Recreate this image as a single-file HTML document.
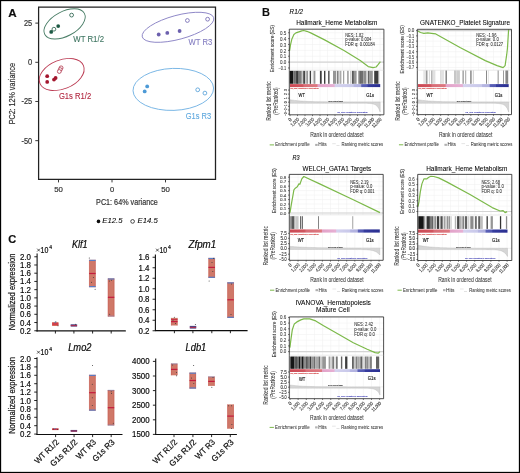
<!DOCTYPE html>
<html><head><meta charset="utf-8"><style>
html,body{margin:0;padding:0;background:#fff;}
body{width:520px;height:473px;overflow:hidden;}
svg{display:block;will-change:transform;font-family:"Liberation Sans",sans-serif;}
</style></head><body>
<svg width="520" height="473" viewBox="0 0 520 473">
<rect x="0" y="0" width="520" height="473" fill="#fff"/>
<defs><filter id="soft" x="0" y="0" width="1" height="1"><feGaussianBlur stdDeviation="0.3"/></filter></defs>
<g filter="url(#soft)">
<text x="8.20" y="16.70" font-size="11.6" stroke="#111" stroke-width="0.2" fill="#111" font-weight="bold">A</text>
<path d="M38.6 7.1 H215.5 V179.4 H38.6 Z" fill="none" stroke="#222" stroke-width="1.25"/>
<line x1="35.30" y1="23.12" x2="38.60" y2="23.12" stroke="#222" stroke-width="0.9"/>
<text x="32.20" y="26.12" font-size="8.2" stroke="#333" stroke-width="0.2" textLength="8.20" lengthAdjust="spacingAndGlyphs" fill="#333" text-anchor="end">25</text>
<line x1="35.30" y1="62.30" x2="38.60" y2="62.30" stroke="#222" stroke-width="0.9"/>
<text x="32.20" y="65.30" font-size="8.2" stroke="#333" stroke-width="0.2" textLength="4.20" lengthAdjust="spacingAndGlyphs" fill="#333" text-anchor="end">0</text>
<line x1="35.30" y1="101.47" x2="38.60" y2="101.47" stroke="#222" stroke-width="0.9"/>
<text x="32.20" y="104.47" font-size="8.2" stroke="#333" stroke-width="0.2" textLength="10.70" lengthAdjust="spacingAndGlyphs" fill="#333" text-anchor="end">-25</text>
<line x1="35.30" y1="140.65" x2="38.60" y2="140.65" stroke="#222" stroke-width="0.9"/>
<text x="32.20" y="143.65" font-size="8.2" stroke="#333" stroke-width="0.2" textLength="10.70" lengthAdjust="spacingAndGlyphs" fill="#333" text-anchor="end">-50</text>
<line x1="58.50" y1="179.40" x2="58.50" y2="182.40" stroke="#222" stroke-width="0.9"/>
<text x="58.50" y="192.30" font-size="8.0" stroke="#333" stroke-width="0.2" textLength="8.70" lengthAdjust="spacingAndGlyphs" fill="#333" text-anchor="middle">50</text>
<line x1="112.00" y1="179.40" x2="112.00" y2="182.40" stroke="#222" stroke-width="0.9"/>
<text x="112.00" y="192.30" font-size="8.0" stroke="#333" stroke-width="0.2" textLength="4.20" lengthAdjust="spacingAndGlyphs" fill="#333" text-anchor="middle">0</text>
<line x1="165.50" y1="179.40" x2="165.50" y2="182.40" stroke="#222" stroke-width="0.9"/>
<text x="165.50" y="192.30" font-size="8.0" stroke="#333" stroke-width="0.2" textLength="8.70" lengthAdjust="spacingAndGlyphs" fill="#333" text-anchor="middle">50</text>
<text x="96.10" y="205.40" font-size="9.0" stroke="#333" stroke-width="0.2" textLength="61.70" lengthAdjust="spacingAndGlyphs" fill="#333">PC1: 64% variance</text>
<text x="14.60" y="124.30" font-size="9.5" stroke="#333" stroke-width="0.2" textLength="61.20" lengthAdjust="spacingAndGlyphs" fill="#333" transform="rotate(-90 14.60 124.30)">PC2: 12% variance</text>
<circle cx="98.50" cy="221.40" r="1.80" fill="#111"/>
<text x="102.30" y="223.40" font-size="7.0" stroke="#222" stroke-width="0.08" textLength="20.20" lengthAdjust="spacingAndGlyphs" font-style="italic">E12.5</text>
<circle cx="132.60" cy="221.40" r="1.85" fill="none" stroke="#222" stroke-width="0.8"/>
<text x="137.60" y="223.40" font-size="7.0" stroke="#222" stroke-width="0.08" textLength="20.20" lengthAdjust="spacingAndGlyphs" font-style="italic">E14.5</text>
<ellipse cx="64.60" cy="23.90" rx="22.40" ry="12.30" transform="rotate(-28 64.60 23.90)" fill="none" stroke="#4a7e67" stroke-width="0.9"/>
<circle cx="71.60" cy="15.10" r="1.90" fill="white" stroke="#1f5a44" stroke-width="0.8"/>
<circle cx="58.20" cy="26.10" r="1.90" fill="#1f5a44"/>
<circle cx="53.90" cy="29.20" r="1.90" fill="white" stroke="#1f5a44" stroke-width="0.8"/>
<circle cx="51.20" cy="31.90" r="1.90" fill="#1f5a44"/>
<text x="73.30" y="41.60" font-size="8.2" stroke="#3d7460" stroke-width="0.1" textLength="30.70" lengthAdjust="spacingAndGlyphs" fill="#3d7460">WT R1/2</text>
<ellipse cx="61.70" cy="74.50" rx="23.50" ry="14.50" transform="rotate(-22 61.70 74.50)" fill="none" stroke="#bb3a52" stroke-width="0.9"/>
<circle cx="47.20" cy="76.20" r="1.90" fill="#a3152f"/>
<circle cx="47.20" cy="81.90" r="1.90" fill="#a3152f"/>
<circle cx="54.00" cy="79.60" r="1.90" fill="#a3152f"/>
<circle cx="55.60" cy="78.00" r="1.90" fill="#a3152f"/>
<circle cx="61.10" cy="67.80" r="1.90" fill="white" stroke="#a3152f" stroke-width="0.7"/>
<circle cx="60.20" cy="69.60" r="1.90" fill="white" stroke="#a3152f" stroke-width="0.7"/>
<circle cx="59.30" cy="71.50" r="1.90" fill="white" stroke="#a3152f" stroke-width="0.7"/>
<text x="58.90" y="98.70" font-size="8.2" stroke="#b1263f" stroke-width="0.1" textLength="32.30" lengthAdjust="spacingAndGlyphs" fill="#b1263f">G1s R1/2</text>
<ellipse cx="178.00" cy="27.30" rx="37.00" ry="12.00" transform="rotate(-15 178.00 27.30)" fill="none" stroke="#8d86c6" stroke-width="0.9"/>
<circle cx="158.70" cy="34.50" r="1.90" fill="#6c61ae"/>
<circle cx="167.30" cy="32.90" r="1.90" fill="#6c61ae"/>
<circle cx="179.60" cy="31.00" r="1.90" fill="#6c61ae"/>
<circle cx="187.40" cy="20.50" r="1.90" fill="white" stroke="#6c61ae" stroke-width="0.8"/>
<circle cx="207.60" cy="19.20" r="1.90" fill="white" stroke="#6c61ae" stroke-width="0.8"/>
<text x="188.60" y="45.20" font-size="8.2" stroke="#837cc0" stroke-width="0.1" textLength="23.70" lengthAdjust="spacingAndGlyphs" fill="#837cc0">WT R3</text>
<ellipse cx="173.30" cy="89.40" rx="40.30" ry="21.00" transform="rotate(-2 173.30 89.40)" fill="none" stroke="#6eb0e2" stroke-width="0.9"/>
<circle cx="147.20" cy="86.40" r="1.90" fill="#4d9ad6"/>
<circle cx="144.70" cy="91.40" r="1.90" fill="#4d9ad6"/>
<circle cx="197.70" cy="89.80" r="1.90" fill="white" stroke="#4d9ad6" stroke-width="0.8"/>
<circle cx="204.90" cy="93.10" r="1.90" fill="white" stroke="#4d9ad6" stroke-width="0.8"/>
<text x="185.70" y="118.90" font-size="8.2" stroke="#5ea7dd" stroke-width="0.1" textLength="25.40" lengthAdjust="spacingAndGlyphs" fill="#5ea7dd">G1s R3</text>
<text x="261.90" y="16.00" font-size="11.0" stroke="#111" stroke-width="0.12" fill="#111" font-weight="bold">B</text>
<text x="289.60" y="14.20" font-size="6.8" stroke="#222" stroke-width="0.12" textLength="13.30" lengthAdjust="spacingAndGlyphs" font-style="italic">R1/2</text>
<text x="292.50" y="159.50" font-size="6.8" stroke="#222" stroke-width="0.12" textLength="7.00" lengthAdjust="spacingAndGlyphs" font-style="italic">R3</text>
<line x1="289.30" y1="32.75" x2="383.90" y2="32.75" stroke="#efefef" stroke-width="0.5"/>
<line x1="289.30" y1="38.62" x2="383.90" y2="38.62" stroke="#efefef" stroke-width="0.5"/>
<line x1="289.30" y1="44.49" x2="383.90" y2="44.49" stroke="#efefef" stroke-width="0.5"/>
<line x1="289.30" y1="50.36" x2="383.90" y2="50.36" stroke="#efefef" stroke-width="0.5"/>
<line x1="289.30" y1="56.23" x2="383.90" y2="56.23" stroke="#efefef" stroke-width="0.5"/>
<line x1="289.30" y1="62.10" x2="383.90" y2="62.10" stroke="#efefef" stroke-width="0.5"/>
<line x1="289.30" y1="67.97" x2="383.90" y2="67.97" stroke="#efefef" stroke-width="0.5"/>
<line x1="290.00" y1="29.20" x2="290.00" y2="70.20" stroke="#efefef" stroke-width="0.5"/>
<line x1="290.00" y1="87.10" x2="290.00" y2="114.80" stroke="#efefef" stroke-width="0.5"/>
<line x1="297.50" y1="29.20" x2="297.50" y2="70.20" stroke="#efefef" stroke-width="0.5"/>
<line x1="297.50" y1="87.10" x2="297.50" y2="114.80" stroke="#efefef" stroke-width="0.5"/>
<line x1="305.00" y1="29.20" x2="305.00" y2="70.20" stroke="#efefef" stroke-width="0.5"/>
<line x1="305.00" y1="87.10" x2="305.00" y2="114.80" stroke="#efefef" stroke-width="0.5"/>
<line x1="312.50" y1="29.20" x2="312.50" y2="70.20" stroke="#efefef" stroke-width="0.5"/>
<line x1="312.50" y1="87.10" x2="312.50" y2="114.80" stroke="#efefef" stroke-width="0.5"/>
<line x1="320.00" y1="29.20" x2="320.00" y2="70.20" stroke="#efefef" stroke-width="0.5"/>
<line x1="320.00" y1="87.10" x2="320.00" y2="114.80" stroke="#efefef" stroke-width="0.5"/>
<line x1="327.50" y1="29.20" x2="327.50" y2="70.20" stroke="#efefef" stroke-width="0.5"/>
<line x1="327.50" y1="87.10" x2="327.50" y2="114.80" stroke="#efefef" stroke-width="0.5"/>
<line x1="335.00" y1="29.20" x2="335.00" y2="70.20" stroke="#efefef" stroke-width="0.5"/>
<line x1="335.00" y1="87.10" x2="335.00" y2="114.80" stroke="#efefef" stroke-width="0.5"/>
<line x1="342.50" y1="29.20" x2="342.50" y2="70.20" stroke="#efefef" stroke-width="0.5"/>
<line x1="342.50" y1="87.10" x2="342.50" y2="114.80" stroke="#efefef" stroke-width="0.5"/>
<line x1="350.00" y1="29.20" x2="350.00" y2="70.20" stroke="#efefef" stroke-width="0.5"/>
<line x1="350.00" y1="87.10" x2="350.00" y2="114.80" stroke="#efefef" stroke-width="0.5"/>
<line x1="357.50" y1="29.20" x2="357.50" y2="70.20" stroke="#efefef" stroke-width="0.5"/>
<line x1="357.50" y1="87.10" x2="357.50" y2="114.80" stroke="#efefef" stroke-width="0.5"/>
<line x1="365.00" y1="29.20" x2="365.00" y2="70.20" stroke="#efefef" stroke-width="0.5"/>
<line x1="365.00" y1="87.10" x2="365.00" y2="114.80" stroke="#efefef" stroke-width="0.5"/>
<line x1="372.50" y1="29.20" x2="372.50" y2="70.20" stroke="#efefef" stroke-width="0.5"/>
<line x1="372.50" y1="87.10" x2="372.50" y2="114.80" stroke="#efefef" stroke-width="0.5"/>
<line x1="380.00" y1="29.20" x2="380.00" y2="70.20" stroke="#efefef" stroke-width="0.5"/>
<line x1="380.00" y1="87.10" x2="380.00" y2="114.80" stroke="#efefef" stroke-width="0.5"/>
<line x1="289.30" y1="62.10" x2="383.90" y2="62.10" stroke="#d4d4d4" stroke-width="1.1"/>
<polyline points="289.6,50.7 290.5,44.8 291.9,38.9 293.9,34.5 295.9,32.9 298.9,31.9 301.8,30.9 303.8,30.5 306.8,31.3 310.7,32.9 324.6,39.9 344.4,50.7 360.2,60.6 368.2,66.6 373.1,67.6 376.1,67.0 378.1,64.6 380.4,61.6" fill="none" stroke="#7cb94a" stroke-width="1.2" stroke-linejoin="round"/>
<rect x="289.80" y="70.80" width="3.30" height="13.00" fill="rgb(25,25,25)"/>
<rect x="293.10" y="70.80" width="0.90" height="13.00" fill="rgb(120,120,120)"/>
<rect x="294.00" y="70.80" width="1.40" height="13.00" fill="rgb(110,110,110)"/>
<rect x="295.40" y="70.80" width="1.80" height="13.00" fill="rgb(70,70,70)"/>
<rect x="297.20" y="70.80" width="1.40" height="13.00" fill="rgb(20,20,20)"/>
<rect x="298.60" y="70.80" width="3.20" height="13.00" fill="rgb(125,125,125)"/>
<rect x="301.80" y="70.80" width="1.40" height="13.00" fill="rgb(200,200,200)"/>
<rect x="303.20" y="70.80" width="1.90" height="13.00" fill="rgb(70,70,70)"/>
<rect x="305.10" y="70.80" width="1.40" height="13.00" fill="rgb(200,200,200)"/>
<rect x="306.50" y="70.80" width="1.40" height="13.00" fill="rgb(130,130,130)"/>
<rect x="307.90" y="70.80" width="1.40" height="13.00" fill="rgb(245,245,245)"/>
<rect x="309.70" y="70.80" width="1.40" height="13.00" fill="rgb(60,60,60)"/>
<rect x="311.10" y="70.80" width="1.90" height="13.00" fill="rgb(240,240,240)"/>
<rect x="313.50" y="70.80" width="1.90" height="13.00" fill="rgb(150,150,150)"/>
<rect x="319.90" y="70.80" width="1.80" height="13.00" fill="rgb(60,60,60)"/>
<rect x="324.00" y="70.80" width="1.40" height="13.00" fill="rgb(60,60,60)"/>
<rect x="328.20" y="70.80" width="1.30" height="13.00" fill="rgb(60,60,60)"/>
<rect x="333.00" y="70.80" width="3.00" height="13.00" fill="rgb(150,150,150)"/>
<rect x="336.80" y="70.80" width="1.80" height="13.00" fill="rgb(130,130,130)"/>
<rect x="339.50" y="70.80" width="1.90" height="13.00" fill="rgb(170,170,170)"/>
<rect x="343.20" y="70.80" width="1.00" height="13.00" fill="rgb(140,140,140)"/>
<rect x="347.00" y="70.80" width="1.80" height="13.00" fill="rgb(170,170,170)"/>
<rect x="350.20" y="70.80" width="1.30" height="13.00" fill="rgb(200,200,200)"/>
<rect x="352.00" y="70.80" width="1.90" height="13.00" fill="rgb(90,90,90)"/>
<rect x="353.90" y="70.80" width="2.70" height="13.00" fill="rgb(150,150,150)"/>
<rect x="358.00" y="70.80" width="1.40" height="13.00" fill="rgb(170,170,170)"/>
<rect x="359.40" y="70.80" width="1.40" height="13.00" fill="rgb(70,70,70)"/>
<rect x="360.80" y="70.80" width="2.70" height="13.00" fill="rgb(110,110,110)"/>
<rect x="363.50" y="70.80" width="2.80" height="13.00" fill="rgb(140,140,140)"/>
<rect x="366.30" y="70.80" width="1.40" height="13.00" fill="rgb(200,200,200)"/>
<rect x="368.20" y="70.80" width="1.30" height="13.00" fill="rgb(60,60,60)"/>
<rect x="369.50" y="70.80" width="3.30" height="13.00" fill="rgb(150,150,150)"/>
<rect x="374.20" y="70.80" width="4.10" height="13.00" fill="rgb(60,60,60)"/>
<rect x="378.30" y="70.80" width="0.90" height="13.00" fill="rgb(150,150,150)"/>
<defs><linearGradient id="cb1" x1="0" x2="1" y1="0" y2="0"><stop offset="0.000" stop-color="#cc4a55"/><stop offset="0.140" stop-color="#d0545e"/><stop offset="0.155" stop-color="#d86c76"/><stop offset="0.300" stop-color="#dc7880"/><stop offset="0.310" stop-color="#e2a2c8"/><stop offset="0.490" stop-color="#e6b0d4"/><stop offset="0.500" stop-color="#d4d2ee"/><stop offset="0.700" stop-color="#c8c8ea"/><stop offset="0.710" stop-color="#b6b6e2"/><stop offset="0.785" stop-color="#b0b0de"/><stop offset="0.795" stop-color="#5a60b6"/><stop offset="0.855" stop-color="#5258b2"/><stop offset="0.865" stop-color="#363c9e"/><stop offset="1.000" stop-color="#2a2e90"/></linearGradient></defs>
<rect x="290.00" y="84.10" width="90.20" height="3.00" fill="url(#cb1)"/>
<text x="290.20" y="89.20" font-size="2.4" stroke="#d04040" stroke-width="0.12" textLength="28.80" lengthAdjust="spacingAndGlyphs" fill="#d04040">na_pos (positively correlated)</text>
<line x1="289.30" y1="102.00" x2="383.90" y2="102.00" stroke="#e6e6e6" stroke-width="0.6"/>
<path d="M290.00,99.70 L291.50,99.95 L293.01,100.18 L294.51,100.38 L296.01,100.56 L297.52,100.72 L299.02,100.86 L300.52,100.98 L302.03,101.10 L303.53,101.20 L305.03,101.28 L306.54,101.36 L308.04,101.43 L309.54,101.50 L311.05,101.55 L312.55,101.60 L314.05,101.64 L315.56,101.68 L317.06,101.72 L318.56,101.75 L320.07,101.78 L321.57,101.80 L323.07,101.82 L324.58,101.84 L326.08,101.86 L327.58,101.88 L329.09,101.89 L330.59,101.90 L332.09,101.91 L333.60,101.92 L335.10,101.93 L336.60,101.94 L338.11,101.95 L339.61,101.95 L341.11,101.96 L342.62,101.96 L344.12,101.97 L345.62,101.97 L347.13,101.97 L348.63,101.98 L350.13,101.98 L351.64,101.98 L353.14,101.98 L354.64,101.98 L356.15,101.99 L357.65,101.99 L359.15,101.99 L360.66,101.99 L362.16,101.99 L363.66,101.99 L365.17,101.99 L366.67,101.99 L368.17,101.99 L369.68,102.00 L371.18,102.00 L372.68,102.00 L374.19,102.00 L375.69,102.00 L377.19,102.00 L378.70,102.00 L380.20,102.00 L380.20,112.00 L378.70,108.40 L377.19,106.29 L375.69,105.06 L374.19,104.33 L372.68,103.90 L371.18,103.65 L369.68,103.51 L368.17,103.42 L366.67,103.37 L365.17,103.34 L363.66,103.32 L362.16,103.31 L360.66,103.31 L359.15,103.30 L357.65,103.30 L356.15,103.30 L354.64,103.30 L353.14,103.30 L351.64,103.30 L350.13,103.30 L348.63,103.30 L347.13,103.30 L345.62,103.30 L344.12,103.30 L342.62,103.30 L341.11,103.30 L339.61,103.30 L338.11,103.30 L336.60,103.30 L335.10,103.30 L333.60,103.30 L332.09,103.30 L330.59,103.30 L329.09,103.30 L327.58,103.30 L326.08,103.30 L324.58,103.30 L323.07,103.30 L321.57,103.30 L320.07,103.30 L318.56,103.30 L317.06,103.30 L315.56,103.30 L314.05,103.30 L312.55,103.30 L311.05,103.30 L309.54,103.30 L308.04,103.30 L306.54,103.30 L305.03,103.30 L303.53,103.30 L302.03,103.30 L300.52,103.30 L299.02,103.30 L297.52,103.30 L296.01,103.30 L294.51,103.30 L293.01,103.30 L291.50,103.30 L290.00,103.30 Z" fill="#d6d6d6" stroke="#b0b0b0" stroke-width="0.35"/>
<text x="328.43" y="101.50" font-size="2.4" stroke="#444" stroke-width="0.12" textLength="14.50" lengthAdjust="spacingAndGlyphs" fill="#444">Zero cross at 5890</text>
<text x="337.36" y="113.40" font-size="2.4" stroke="#4a4ab8" stroke-width="0.12" textLength="30.40" lengthAdjust="spacingAndGlyphs" fill="#4a4ab8">na_neg (negatively correlated)</text>
<text x="298.60" y="97.30" font-size="4.8" stroke="#222" stroke-width="0.12" textLength="6.40" lengthAdjust="spacingAndGlyphs">WT</text>
<text x="366.30" y="97.20" font-size="4.8" stroke="#222" stroke-width="0.12" textLength="7.70" lengthAdjust="spacingAndGlyphs">G1s</text>
<path d="M289.3 29.2 H383.9 V114.8 H289.3 Z" fill="none" stroke="#222" stroke-width="0.8"/>
<line x1="289.30" y1="70.20" x2="383.90" y2="70.20" stroke="#c8c8c8" stroke-width="0.4"/>
<line x1="288.00" y1="32.75" x2="289.30" y2="32.75" stroke="#222" stroke-width="0.6"/>
<text x="286.30" y="35.00" font-size="4.5" stroke="#333" stroke-width="0.05" textLength="6.30" lengthAdjust="spacingAndGlyphs" fill="#333" text-anchor="end">0.5</text>
<line x1="288.00" y1="38.62" x2="289.30" y2="38.62" stroke="#222" stroke-width="0.6"/>
<text x="286.30" y="40.87" font-size="4.5" stroke="#333" stroke-width="0.05" textLength="6.30" lengthAdjust="spacingAndGlyphs" fill="#333" text-anchor="end">0.4</text>
<line x1="288.00" y1="44.49" x2="289.30" y2="44.49" stroke="#222" stroke-width="0.6"/>
<text x="286.30" y="46.74" font-size="4.5" stroke="#333" stroke-width="0.05" textLength="6.30" lengthAdjust="spacingAndGlyphs" fill="#333" text-anchor="end">0.3</text>
<line x1="288.00" y1="50.36" x2="289.30" y2="50.36" stroke="#222" stroke-width="0.6"/>
<text x="286.30" y="52.61" font-size="4.5" stroke="#333" stroke-width="0.05" textLength="6.30" lengthAdjust="spacingAndGlyphs" fill="#333" text-anchor="end">0.2</text>
<line x1="288.00" y1="56.23" x2="289.30" y2="56.23" stroke="#222" stroke-width="0.6"/>
<text x="286.30" y="58.48" font-size="4.5" stroke="#333" stroke-width="0.05" textLength="6.30" lengthAdjust="spacingAndGlyphs" fill="#333" text-anchor="end">0.1</text>
<line x1="288.00" y1="62.10" x2="289.30" y2="62.10" stroke="#222" stroke-width="0.6"/>
<text x="286.30" y="64.35" font-size="4.5" stroke="#333" stroke-width="0.05" textLength="6.30" lengthAdjust="spacingAndGlyphs" fill="#333" text-anchor="end">0.0</text>
<line x1="288.00" y1="67.97" x2="289.30" y2="67.97" stroke="#222" stroke-width="0.6"/>
<text x="286.30" y="70.22" font-size="4.5" stroke="#333" stroke-width="0.05" textLength="7.70" lengthAdjust="spacingAndGlyphs" fill="#333" text-anchor="end">−0.1</text>
<line x1="288.00" y1="90.10" x2="289.30" y2="90.10" stroke="#222" stroke-width="0.6"/>
<text x="286.60" y="90.10" font-size="4.3" stroke="#333" stroke-width="0.12" textLength="2.10" lengthAdjust="spacingAndGlyphs" fill="#333" text-anchor="middle" transform="rotate(-90 286.60 90.10)">3</text>
<line x1="288.00" y1="94.10" x2="289.30" y2="94.10" stroke="#222" stroke-width="0.6"/>
<text x="286.60" y="94.10" font-size="4.3" stroke="#333" stroke-width="0.12" textLength="2.10" lengthAdjust="spacingAndGlyphs" fill="#333" text-anchor="middle" transform="rotate(-90 286.60 94.10)">2</text>
<line x1="288.00" y1="98.20" x2="289.30" y2="98.20" stroke="#222" stroke-width="0.6"/>
<text x="286.60" y="98.20" font-size="4.3" stroke="#333" stroke-width="0.12" textLength="2.10" lengthAdjust="spacingAndGlyphs" fill="#333" text-anchor="middle" transform="rotate(-90 286.60 98.20)">1</text>
<line x1="288.00" y1="102.20" x2="289.30" y2="102.20" stroke="#222" stroke-width="0.6"/>
<text x="286.60" y="102.20" font-size="4.3" stroke="#333" stroke-width="0.12" textLength="2.10" lengthAdjust="spacingAndGlyphs" fill="#333" text-anchor="middle" transform="rotate(-90 286.60 102.20)">0</text>
<line x1="288.00" y1="106.30" x2="289.30" y2="106.30" stroke="#222" stroke-width="0.6"/>
<text x="286.60" y="106.30" font-size="4.3" stroke="#333" stroke-width="0.12" textLength="3.40" lengthAdjust="spacingAndGlyphs" fill="#333" text-anchor="middle" transform="rotate(-90 286.60 106.30)">−1</text>
<line x1="288.00" y1="110.00" x2="289.30" y2="110.00" stroke="#222" stroke-width="0.6"/>
<text x="286.60" y="110.00" font-size="4.3" stroke="#333" stroke-width="0.12" textLength="3.40" lengthAdjust="spacingAndGlyphs" fill="#333" text-anchor="middle" transform="rotate(-90 286.60 110.00)">−2</text>
<line x1="288.00" y1="114.10" x2="289.30" y2="114.10" stroke="#222" stroke-width="0.6"/>
<text x="286.60" y="114.10" font-size="4.3" stroke="#333" stroke-width="0.12" textLength="3.40" lengthAdjust="spacingAndGlyphs" fill="#333" text-anchor="middle" transform="rotate(-90 286.60 114.10)">−3</text>
<line x1="290.00" y1="114.80" x2="290.00" y2="116.10" stroke="#222" stroke-width="0.6"/>
<text x="292.00" y="119.80" font-size="5.0" stroke="#333" stroke-width="0.1" textLength="2.60" lengthAdjust="spacingAndGlyphs" fill="#333" text-anchor="end" transform="rotate(-45 292.00 119.80)">0</text>
<line x1="297.50" y1="114.80" x2="297.50" y2="116.10" stroke="#222" stroke-width="0.6"/>
<text x="299.50" y="119.80" font-size="5.0" stroke="#333" stroke-width="0.1" textLength="9.90" lengthAdjust="spacingAndGlyphs" fill="#333" text-anchor="end" transform="rotate(-45 299.50 119.80)">1,000</text>
<line x1="305.00" y1="114.80" x2="305.00" y2="116.10" stroke="#222" stroke-width="0.6"/>
<text x="307.00" y="119.80" font-size="5.0" stroke="#333" stroke-width="0.1" textLength="9.90" lengthAdjust="spacingAndGlyphs" fill="#333" text-anchor="end" transform="rotate(-45 307.00 119.80)">2,000</text>
<line x1="312.50" y1="114.80" x2="312.50" y2="116.10" stroke="#222" stroke-width="0.6"/>
<text x="314.50" y="119.80" font-size="5.0" stroke="#333" stroke-width="0.1" textLength="9.90" lengthAdjust="spacingAndGlyphs" fill="#333" text-anchor="end" transform="rotate(-45 314.50 119.80)">3,000</text>
<line x1="320.00" y1="114.80" x2="320.00" y2="116.10" stroke="#222" stroke-width="0.6"/>
<text x="322.00" y="119.80" font-size="5.0" stroke="#333" stroke-width="0.1" textLength="9.90" lengthAdjust="spacingAndGlyphs" fill="#333" text-anchor="end" transform="rotate(-45 322.00 119.80)">4,000</text>
<line x1="327.50" y1="114.80" x2="327.50" y2="116.10" stroke="#222" stroke-width="0.6"/>
<text x="329.50" y="119.80" font-size="5.0" stroke="#333" stroke-width="0.1" textLength="9.90" lengthAdjust="spacingAndGlyphs" fill="#333" text-anchor="end" transform="rotate(-45 329.50 119.80)">5,000</text>
<line x1="335.00" y1="114.80" x2="335.00" y2="116.10" stroke="#222" stroke-width="0.6"/>
<text x="337.00" y="119.80" font-size="5.0" stroke="#333" stroke-width="0.1" textLength="9.90" lengthAdjust="spacingAndGlyphs" fill="#333" text-anchor="end" transform="rotate(-45 337.00 119.80)">6,000</text>
<line x1="342.50" y1="114.80" x2="342.50" y2="116.10" stroke="#222" stroke-width="0.6"/>
<text x="344.50" y="119.80" font-size="5.0" stroke="#333" stroke-width="0.1" textLength="9.90" lengthAdjust="spacingAndGlyphs" fill="#333" text-anchor="end" transform="rotate(-45 344.50 119.80)">7,000</text>
<line x1="350.00" y1="114.80" x2="350.00" y2="116.10" stroke="#222" stroke-width="0.6"/>
<text x="352.00" y="119.80" font-size="5.0" stroke="#333" stroke-width="0.1" textLength="9.90" lengthAdjust="spacingAndGlyphs" fill="#333" text-anchor="end" transform="rotate(-45 352.00 119.80)">8,000</text>
<line x1="357.50" y1="114.80" x2="357.50" y2="116.10" stroke="#222" stroke-width="0.6"/>
<text x="359.50" y="119.80" font-size="5.0" stroke="#333" stroke-width="0.1" textLength="9.90" lengthAdjust="spacingAndGlyphs" fill="#333" text-anchor="end" transform="rotate(-45 359.50 119.80)">9,000</text>
<line x1="365.00" y1="114.80" x2="365.00" y2="116.10" stroke="#222" stroke-width="0.6"/>
<text x="367.00" y="119.80" font-size="5.0" stroke="#333" stroke-width="0.1" textLength="11.60" lengthAdjust="spacingAndGlyphs" fill="#333" text-anchor="end" transform="rotate(-45 367.00 119.80)">10,000</text>
<line x1="372.50" y1="114.80" x2="372.50" y2="116.10" stroke="#222" stroke-width="0.6"/>
<text x="374.50" y="119.80" font-size="5.0" stroke="#333" stroke-width="0.1" textLength="11.60" lengthAdjust="spacingAndGlyphs" fill="#333" text-anchor="end" transform="rotate(-45 374.50 119.80)">11,000</text>
<line x1="380.00" y1="114.80" x2="380.00" y2="116.10" stroke="#222" stroke-width="0.6"/>
<text x="382.00" y="119.80" font-size="5.0" stroke="#333" stroke-width="0.1" textLength="11.60" lengthAdjust="spacingAndGlyphs" fill="#333" text-anchor="end" transform="rotate(-45 382.00 119.80)">12,000</text>
<text x="274.40" y="48.60" font-size="5.8" stroke="#333" stroke-width="0.1" textLength="47.20" lengthAdjust="spacingAndGlyphs" fill="#333" text-anchor="middle" transform="rotate(-90 274.40 48.60)">Enrichment score (ES)</text>
<text x="270.60" y="101.10" font-size="6.6" stroke="#333" stroke-width="0.04" textLength="39.50" lengthAdjust="spacingAndGlyphs" fill="#333" text-anchor="middle" transform="rotate(-90 270.60 101.10)">Ranked list metric</text>
<text x="278.00" y="101.10" font-size="6.6" stroke="#333" stroke-width="0.04" textLength="27.50" lengthAdjust="spacingAndGlyphs" fill="#333" text-anchor="middle" transform="rotate(-90 278.00 101.10)">(PreRanked)</text>
<text x="310.20" y="137.00" font-size="7.4" stroke="#333" stroke-width="0.06" textLength="53.50" lengthAdjust="spacingAndGlyphs" fill="#333">Rank in ordered dataset</text>
<line x1="269.70" y1="144.90" x2="274.00" y2="144.90" stroke="#7cb94a" stroke-width="1.0"/>
<text x="275.20" y="146.40" font-size="5.0" stroke="#2a2a2a" stroke-width="0.03" textLength="34.50" lengthAdjust="spacingAndGlyphs" fill="#2a2a2a">Enrichment profile</text>
<line x1="315.20" y1="144.40" x2="317.70" y2="144.40" stroke="#555" stroke-width="0.5"/>
<line x1="315.20" y1="145.40" x2="317.70" y2="145.40" stroke="#555" stroke-width="0.5"/>
<text x="318.30" y="146.40" font-size="5.0" stroke="#2a2a2a" stroke-width="0.03" textLength="8.40" lengthAdjust="spacingAndGlyphs" fill="#2a2a2a">Hits</text>
<line x1="332.20" y1="143.70" x2="335.80" y2="143.70" stroke="#ccc" stroke-width="0.5"/>
<text x="336.50" y="146.40" font-size="5.0" textLength="3.00" lengthAdjust="spacingAndGlyphs" fill="#666">...</text>
<text x="341.40" y="146.40" font-size="5.0" stroke="#2a2a2a" stroke-width="0.03" textLength="41.80" lengthAdjust="spacingAndGlyphs" fill="#2a2a2a">Ranking metric scores</text>
<text x="296.20" y="24.60" font-size="6.6" stroke="#222" stroke-width="0.06" textLength="81.30" lengthAdjust="spacingAndGlyphs">Hallmark_Heme Metabolism</text>
<text x="345.20" y="36.50" font-size="4.5" stroke="#2a2a2a" stroke-width="0.04" textLength="18.20" lengthAdjust="spacingAndGlyphs" fill="#2a2a2a">NES: 1.82</text>
<text x="345.20" y="41.45" font-size="4.5" stroke="#2a2a2a" stroke-width="0.04" textLength="26.20" lengthAdjust="spacingAndGlyphs" fill="#2a2a2a">p-value: 0.004</text>
<text x="345.20" y="46.40" font-size="4.5" stroke="#2a2a2a" stroke-width="0.04" textLength="29.70" lengthAdjust="spacingAndGlyphs" fill="#2a2a2a">FDR q: 0.00184</text>
<line x1="417.30" y1="30.60" x2="511.50" y2="30.60" stroke="#efefef" stroke-width="0.5"/>
<line x1="417.30" y1="35.87" x2="511.50" y2="35.87" stroke="#efefef" stroke-width="0.5"/>
<line x1="417.30" y1="41.14" x2="511.50" y2="41.14" stroke="#efefef" stroke-width="0.5"/>
<line x1="417.30" y1="46.41" x2="511.50" y2="46.41" stroke="#efefef" stroke-width="0.5"/>
<line x1="417.30" y1="51.68" x2="511.50" y2="51.68" stroke="#efefef" stroke-width="0.5"/>
<line x1="417.30" y1="56.95" x2="511.50" y2="56.95" stroke="#efefef" stroke-width="0.5"/>
<line x1="417.30" y1="62.22" x2="511.50" y2="62.22" stroke="#efefef" stroke-width="0.5"/>
<line x1="417.30" y1="67.49" x2="511.50" y2="67.49" stroke="#efefef" stroke-width="0.5"/>
<line x1="418.00" y1="29.30" x2="418.00" y2="70.20" stroke="#efefef" stroke-width="0.5"/>
<line x1="418.00" y1="87.10" x2="418.00" y2="114.60" stroke="#efefef" stroke-width="0.5"/>
<line x1="425.55" y1="29.30" x2="425.55" y2="70.20" stroke="#efefef" stroke-width="0.5"/>
<line x1="425.55" y1="87.10" x2="425.55" y2="114.60" stroke="#efefef" stroke-width="0.5"/>
<line x1="433.10" y1="29.30" x2="433.10" y2="70.20" stroke="#efefef" stroke-width="0.5"/>
<line x1="433.10" y1="87.10" x2="433.10" y2="114.60" stroke="#efefef" stroke-width="0.5"/>
<line x1="440.65" y1="29.30" x2="440.65" y2="70.20" stroke="#efefef" stroke-width="0.5"/>
<line x1="440.65" y1="87.10" x2="440.65" y2="114.60" stroke="#efefef" stroke-width="0.5"/>
<line x1="448.20" y1="29.30" x2="448.20" y2="70.20" stroke="#efefef" stroke-width="0.5"/>
<line x1="448.20" y1="87.10" x2="448.20" y2="114.60" stroke="#efefef" stroke-width="0.5"/>
<line x1="455.75" y1="29.30" x2="455.75" y2="70.20" stroke="#efefef" stroke-width="0.5"/>
<line x1="455.75" y1="87.10" x2="455.75" y2="114.60" stroke="#efefef" stroke-width="0.5"/>
<line x1="463.30" y1="29.30" x2="463.30" y2="70.20" stroke="#efefef" stroke-width="0.5"/>
<line x1="463.30" y1="87.10" x2="463.30" y2="114.60" stroke="#efefef" stroke-width="0.5"/>
<line x1="470.85" y1="29.30" x2="470.85" y2="70.20" stroke="#efefef" stroke-width="0.5"/>
<line x1="470.85" y1="87.10" x2="470.85" y2="114.60" stroke="#efefef" stroke-width="0.5"/>
<line x1="478.40" y1="29.30" x2="478.40" y2="70.20" stroke="#efefef" stroke-width="0.5"/>
<line x1="478.40" y1="87.10" x2="478.40" y2="114.60" stroke="#efefef" stroke-width="0.5"/>
<line x1="485.95" y1="29.30" x2="485.95" y2="70.20" stroke="#efefef" stroke-width="0.5"/>
<line x1="485.95" y1="87.10" x2="485.95" y2="114.60" stroke="#efefef" stroke-width="0.5"/>
<line x1="493.50" y1="29.30" x2="493.50" y2="70.20" stroke="#efefef" stroke-width="0.5"/>
<line x1="493.50" y1="87.10" x2="493.50" y2="114.60" stroke="#efefef" stroke-width="0.5"/>
<line x1="501.05" y1="29.30" x2="501.05" y2="70.20" stroke="#efefef" stroke-width="0.5"/>
<line x1="501.05" y1="87.10" x2="501.05" y2="114.60" stroke="#efefef" stroke-width="0.5"/>
<line x1="508.60" y1="29.30" x2="508.60" y2="70.20" stroke="#efefef" stroke-width="0.5"/>
<line x1="508.60" y1="87.10" x2="508.60" y2="114.60" stroke="#efefef" stroke-width="0.5"/>
<line x1="417.30" y1="30.60" x2="511.50" y2="30.60" stroke="#d4d4d4" stroke-width="1.1"/>
<polyline points="417.9,30.9 420.5,32.5 423.9,33.3 427.8,32.9 431.5,33.4 435.8,33.9 460.0,47.5 485.3,60.6 497.1,65.6 503.1,67.6 505.1,65.6 506.7,54.7 507.4,48.8 508.6,29.5" fill="none" stroke="#7cb94a" stroke-width="1.2" stroke-linejoin="round"/>
<rect x="423.40" y="70.40" width="1.40" height="13.40" fill="rgb(225,225,225)"/>
<rect x="425.70" y="70.40" width="1.80" height="13.40" fill="rgb(155,155,155)"/>
<rect x="428.90" y="70.40" width="1.00" height="13.40" fill="rgb(215,215,215)"/>
<rect x="431.20" y="70.40" width="1.40" height="13.40" fill="rgb(165,165,165)"/>
<rect x="432.60" y="70.40" width="2.80" height="13.40" fill="rgb(225,225,225)"/>
<rect x="440.50" y="70.40" width="0.90" height="13.40" fill="rgb(185,185,185)"/>
<rect x="442.30" y="70.40" width="1.40" height="13.40" fill="rgb(215,215,215)"/>
<rect x="445.50" y="70.40" width="1.40" height="13.40" fill="rgb(125,125,125)"/>
<rect x="454.30" y="70.40" width="1.40" height="13.40" fill="rgb(175,175,175)"/>
<rect x="456.60" y="70.40" width="0.90" height="13.40" fill="rgb(155,155,155)"/>
<rect x="458.00" y="70.40" width="1.90" height="13.40" fill="rgb(205,205,205)"/>
<rect x="462.20" y="70.40" width="0.90" height="13.40" fill="rgb(195,195,195)"/>
<rect x="462.90" y="70.40" width="0.90" height="13.40" fill="rgb(155,155,155)"/>
<rect x="465.20" y="70.40" width="1.00" height="13.40" fill="rgb(165,165,165)"/>
<rect x="470.10" y="70.40" width="1.60" height="13.40" fill="rgb(145,145,145)"/>
<rect x="472.90" y="70.40" width="0.60" height="13.40" fill="rgb(175,175,175)"/>
<rect x="486.00" y="70.40" width="0.90" height="13.40" fill="rgb(125,125,125)"/>
<rect x="487.90" y="70.40" width="0.90" height="13.40" fill="rgb(225,225,225)"/>
<rect x="497.50" y="70.40" width="1.40" height="13.40" fill="rgb(175,175,175)"/>
<rect x="503.10" y="70.40" width="0.90" height="13.40" fill="rgb(145,145,145)"/>
<rect x="505.40" y="70.40" width="2.80" height="13.40" fill="rgb(135,135,135)"/>
<defs><linearGradient id="cb2" x1="0" x2="1" y1="0" y2="0"><stop offset="0.000" stop-color="#cc4a55"/><stop offset="0.140" stop-color="#d0545e"/><stop offset="0.155" stop-color="#d86c76"/><stop offset="0.300" stop-color="#dc7880"/><stop offset="0.310" stop-color="#e2a2c8"/><stop offset="0.490" stop-color="#e6b0d4"/><stop offset="0.500" stop-color="#d4d2ee"/><stop offset="0.700" stop-color="#c8c8ea"/><stop offset="0.710" stop-color="#b6b6e2"/><stop offset="0.785" stop-color="#b0b0de"/><stop offset="0.795" stop-color="#5a60b6"/><stop offset="0.855" stop-color="#5258b2"/><stop offset="0.865" stop-color="#363c9e"/><stop offset="1.000" stop-color="#2a2e90"/></linearGradient></defs>
<rect x="418.00" y="84.10" width="90.70" height="3.00" fill="url(#cb2)"/>
<text x="418.20" y="89.20" font-size="2.4" stroke="#d04040" stroke-width="0.12" textLength="28.80" lengthAdjust="spacingAndGlyphs" fill="#d04040">na_pos (positively correlated)</text>
<line x1="417.30" y1="102.00" x2="511.50" y2="102.00" stroke="#e6e6e6" stroke-width="0.6"/>
<path d="M418.00,99.70 L419.51,99.95 L421.02,100.18 L422.54,100.38 L424.05,100.56 L425.56,100.72 L427.07,100.86 L428.58,100.98 L430.09,101.10 L431.61,101.20 L433.12,101.28 L434.63,101.36 L436.14,101.43 L437.65,101.50 L439.16,101.55 L440.68,101.60 L442.19,101.64 L443.70,101.68 L445.21,101.72 L446.72,101.75 L448.23,101.78 L449.75,101.80 L451.26,101.82 L452.77,101.84 L454.28,101.86 L455.79,101.88 L457.30,101.89 L458.81,101.90 L460.33,101.91 L461.84,101.92 L463.35,101.93 L464.86,101.94 L466.37,101.95 L467.88,101.95 L469.40,101.96 L470.91,101.96 L472.42,101.97 L473.93,101.97 L475.44,101.97 L476.95,101.98 L478.47,101.98 L479.98,101.98 L481.49,101.98 L483.00,101.98 L484.51,101.99 L486.02,101.99 L487.54,101.99 L489.05,101.99 L490.56,101.99 L492.07,101.99 L493.58,101.99 L495.09,101.99 L496.61,101.99 L498.12,102.00 L499.63,102.00 L501.14,102.00 L502.65,102.00 L504.16,102.00 L505.68,102.00 L507.19,102.00 L508.70,102.00 L508.70,112.00 L507.19,108.40 L505.68,106.29 L504.16,105.06 L502.65,104.33 L501.14,103.90 L499.63,103.65 L498.12,103.51 L496.61,103.42 L495.09,103.37 L493.58,103.34 L492.07,103.32 L490.56,103.31 L489.05,103.31 L487.54,103.30 L486.02,103.30 L484.51,103.30 L483.00,103.30 L481.49,103.30 L479.98,103.30 L478.47,103.30 L476.95,103.30 L475.44,103.30 L473.93,103.30 L472.42,103.30 L470.91,103.30 L469.40,103.30 L467.88,103.30 L466.37,103.30 L464.86,103.30 L463.35,103.30 L461.84,103.30 L460.33,103.30 L458.81,103.30 L457.30,103.30 L455.79,103.30 L454.28,103.30 L452.77,103.30 L451.26,103.30 L449.75,103.30 L448.23,103.30 L446.72,103.30 L445.21,103.30 L443.70,103.30 L442.19,103.30 L440.68,103.30 L439.16,103.30 L437.65,103.30 L436.14,103.30 L434.63,103.30 L433.12,103.30 L431.61,103.30 L430.09,103.30 L428.58,103.30 L427.07,103.30 L425.56,103.30 L424.05,103.30 L422.54,103.30 L421.02,103.30 L419.51,103.30 L418.00,103.30 Z" fill="#d6d6d6" stroke="#b0b0b0" stroke-width="0.35"/>
<text x="456.64" y="101.50" font-size="2.4" stroke="#444" stroke-width="0.12" textLength="14.50" lengthAdjust="spacingAndGlyphs" fill="#444">Zero cross at 5890</text>
<text x="465.62" y="113.20" font-size="2.4" stroke="#4a4ab8" stroke-width="0.12" textLength="30.40" lengthAdjust="spacingAndGlyphs" fill="#4a4ab8">na_neg (negatively correlated)</text>
<text x="426.50" y="97.30" font-size="4.8" stroke="#222" stroke-width="0.12" textLength="6.40" lengthAdjust="spacingAndGlyphs">WT</text>
<text x="494.70" y="97.20" font-size="4.8" stroke="#222" stroke-width="0.12" textLength="7.70" lengthAdjust="spacingAndGlyphs">G1s</text>
<path d="M417.3 29.3 H511.5 V114.6 H417.3 Z" fill="none" stroke="#222" stroke-width="0.8"/>
<line x1="417.30" y1="70.20" x2="511.50" y2="70.20" stroke="#c8c8c8" stroke-width="0.4"/>
<line x1="416.00" y1="30.60" x2="417.30" y2="30.60" stroke="#222" stroke-width="0.6"/>
<text x="414.30" y="32.45" font-size="4.5" stroke="#333" stroke-width="0.05" textLength="6.30" lengthAdjust="spacingAndGlyphs" fill="#333" text-anchor="end">0.0</text>
<line x1="416.00" y1="35.87" x2="417.30" y2="35.87" stroke="#222" stroke-width="0.6"/>
<text x="414.30" y="37.72" font-size="4.5" stroke="#333" stroke-width="0.05" textLength="7.70" lengthAdjust="spacingAndGlyphs" fill="#333" text-anchor="end">−0.1</text>
<line x1="416.00" y1="41.14" x2="417.30" y2="41.14" stroke="#222" stroke-width="0.6"/>
<text x="414.30" y="42.99" font-size="4.5" stroke="#333" stroke-width="0.05" textLength="7.70" lengthAdjust="spacingAndGlyphs" fill="#333" text-anchor="end">−0.2</text>
<line x1="416.00" y1="46.41" x2="417.30" y2="46.41" stroke="#222" stroke-width="0.6"/>
<text x="414.30" y="48.26" font-size="4.5" stroke="#333" stroke-width="0.05" textLength="7.70" lengthAdjust="spacingAndGlyphs" fill="#333" text-anchor="end">−0.3</text>
<line x1="416.00" y1="51.68" x2="417.30" y2="51.68" stroke="#222" stroke-width="0.6"/>
<text x="414.30" y="53.53" font-size="4.5" stroke="#333" stroke-width="0.05" textLength="7.70" lengthAdjust="spacingAndGlyphs" fill="#333" text-anchor="end">−0.4</text>
<line x1="416.00" y1="56.95" x2="417.30" y2="56.95" stroke="#222" stroke-width="0.6"/>
<text x="414.30" y="58.80" font-size="4.5" stroke="#333" stroke-width="0.05" textLength="7.70" lengthAdjust="spacingAndGlyphs" fill="#333" text-anchor="end">−0.5</text>
<line x1="416.00" y1="62.22" x2="417.30" y2="62.22" stroke="#222" stroke-width="0.6"/>
<text x="414.30" y="64.07" font-size="4.5" stroke="#333" stroke-width="0.05" textLength="7.70" lengthAdjust="spacingAndGlyphs" fill="#333" text-anchor="end">−0.6</text>
<line x1="416.00" y1="67.49" x2="417.30" y2="67.49" stroke="#222" stroke-width="0.6"/>
<text x="414.30" y="69.34" font-size="4.5" stroke="#333" stroke-width="0.05" textLength="7.70" lengthAdjust="spacingAndGlyphs" fill="#333" text-anchor="end">−0.7</text>
<line x1="416.00" y1="90.10" x2="417.30" y2="90.10" stroke="#222" stroke-width="0.6"/>
<text x="414.60" y="90.10" font-size="4.3" stroke="#333" stroke-width="0.12" textLength="2.10" lengthAdjust="spacingAndGlyphs" fill="#333" text-anchor="middle" transform="rotate(-90 414.60 90.10)">3</text>
<line x1="416.00" y1="94.10" x2="417.30" y2="94.10" stroke="#222" stroke-width="0.6"/>
<text x="414.60" y="94.10" font-size="4.3" stroke="#333" stroke-width="0.12" textLength="2.10" lengthAdjust="spacingAndGlyphs" fill="#333" text-anchor="middle" transform="rotate(-90 414.60 94.10)">2</text>
<line x1="416.00" y1="98.20" x2="417.30" y2="98.20" stroke="#222" stroke-width="0.6"/>
<text x="414.60" y="98.20" font-size="4.3" stroke="#333" stroke-width="0.12" textLength="2.10" lengthAdjust="spacingAndGlyphs" fill="#333" text-anchor="middle" transform="rotate(-90 414.60 98.20)">1</text>
<line x1="416.00" y1="102.20" x2="417.30" y2="102.20" stroke="#222" stroke-width="0.6"/>
<text x="414.60" y="102.20" font-size="4.3" stroke="#333" stroke-width="0.12" textLength="2.10" lengthAdjust="spacingAndGlyphs" fill="#333" text-anchor="middle" transform="rotate(-90 414.60 102.20)">0</text>
<line x1="416.00" y1="106.30" x2="417.30" y2="106.30" stroke="#222" stroke-width="0.6"/>
<text x="414.60" y="106.30" font-size="4.3" stroke="#333" stroke-width="0.12" textLength="3.40" lengthAdjust="spacingAndGlyphs" fill="#333" text-anchor="middle" transform="rotate(-90 414.60 106.30)">−1</text>
<line x1="416.00" y1="110.00" x2="417.30" y2="110.00" stroke="#222" stroke-width="0.6"/>
<text x="414.60" y="110.00" font-size="4.3" stroke="#333" stroke-width="0.12" textLength="3.40" lengthAdjust="spacingAndGlyphs" fill="#333" text-anchor="middle" transform="rotate(-90 414.60 110.00)">−2</text>
<line x1="416.00" y1="114.10" x2="417.30" y2="114.10" stroke="#222" stroke-width="0.6"/>
<text x="414.60" y="114.10" font-size="4.3" stroke="#333" stroke-width="0.12" textLength="3.40" lengthAdjust="spacingAndGlyphs" fill="#333" text-anchor="middle" transform="rotate(-90 414.60 114.10)">−3</text>
<line x1="418.00" y1="114.60" x2="418.00" y2="115.90" stroke="#222" stroke-width="0.6"/>
<text x="420.00" y="119.60" font-size="5.0" stroke="#333" stroke-width="0.1" textLength="2.60" lengthAdjust="spacingAndGlyphs" fill="#333" text-anchor="end" transform="rotate(-45 420.00 119.60)">0</text>
<line x1="425.55" y1="114.60" x2="425.55" y2="115.90" stroke="#222" stroke-width="0.6"/>
<text x="427.55" y="119.60" font-size="5.0" stroke="#333" stroke-width="0.1" textLength="9.90" lengthAdjust="spacingAndGlyphs" fill="#333" text-anchor="end" transform="rotate(-45 427.55 119.60)">1,000</text>
<line x1="433.10" y1="114.60" x2="433.10" y2="115.90" stroke="#222" stroke-width="0.6"/>
<text x="435.10" y="119.60" font-size="5.0" stroke="#333" stroke-width="0.1" textLength="9.90" lengthAdjust="spacingAndGlyphs" fill="#333" text-anchor="end" transform="rotate(-45 435.10 119.60)">2,000</text>
<line x1="440.65" y1="114.60" x2="440.65" y2="115.90" stroke="#222" stroke-width="0.6"/>
<text x="442.65" y="119.60" font-size="5.0" stroke="#333" stroke-width="0.1" textLength="9.90" lengthAdjust="spacingAndGlyphs" fill="#333" text-anchor="end" transform="rotate(-45 442.65 119.60)">3,000</text>
<line x1="448.20" y1="114.60" x2="448.20" y2="115.90" stroke="#222" stroke-width="0.6"/>
<text x="450.20" y="119.60" font-size="5.0" stroke="#333" stroke-width="0.1" textLength="9.90" lengthAdjust="spacingAndGlyphs" fill="#333" text-anchor="end" transform="rotate(-45 450.20 119.60)">4,000</text>
<line x1="455.75" y1="114.60" x2="455.75" y2="115.90" stroke="#222" stroke-width="0.6"/>
<text x="457.75" y="119.60" font-size="5.0" stroke="#333" stroke-width="0.1" textLength="9.90" lengthAdjust="spacingAndGlyphs" fill="#333" text-anchor="end" transform="rotate(-45 457.75 119.60)">5,000</text>
<line x1="463.30" y1="114.60" x2="463.30" y2="115.90" stroke="#222" stroke-width="0.6"/>
<text x="465.30" y="119.60" font-size="5.0" stroke="#333" stroke-width="0.1" textLength="9.90" lengthAdjust="spacingAndGlyphs" fill="#333" text-anchor="end" transform="rotate(-45 465.30 119.60)">6,000</text>
<line x1="470.85" y1="114.60" x2="470.85" y2="115.90" stroke="#222" stroke-width="0.6"/>
<text x="472.85" y="119.60" font-size="5.0" stroke="#333" stroke-width="0.1" textLength="9.90" lengthAdjust="spacingAndGlyphs" fill="#333" text-anchor="end" transform="rotate(-45 472.85 119.60)">7,000</text>
<line x1="478.40" y1="114.60" x2="478.40" y2="115.90" stroke="#222" stroke-width="0.6"/>
<text x="480.40" y="119.60" font-size="5.0" stroke="#333" stroke-width="0.1" textLength="9.90" lengthAdjust="spacingAndGlyphs" fill="#333" text-anchor="end" transform="rotate(-45 480.40 119.60)">8,000</text>
<line x1="485.95" y1="114.60" x2="485.95" y2="115.90" stroke="#222" stroke-width="0.6"/>
<text x="487.95" y="119.60" font-size="5.0" stroke="#333" stroke-width="0.1" textLength="9.90" lengthAdjust="spacingAndGlyphs" fill="#333" text-anchor="end" transform="rotate(-45 487.95 119.60)">9,000</text>
<line x1="493.50" y1="114.60" x2="493.50" y2="115.90" stroke="#222" stroke-width="0.6"/>
<text x="495.50" y="119.60" font-size="5.0" stroke="#333" stroke-width="0.1" textLength="11.60" lengthAdjust="spacingAndGlyphs" fill="#333" text-anchor="end" transform="rotate(-45 495.50 119.60)">10,000</text>
<line x1="501.05" y1="114.60" x2="501.05" y2="115.90" stroke="#222" stroke-width="0.6"/>
<text x="503.05" y="119.60" font-size="5.0" stroke="#333" stroke-width="0.1" textLength="11.60" lengthAdjust="spacingAndGlyphs" fill="#333" text-anchor="end" transform="rotate(-45 503.05 119.60)">11,000</text>
<line x1="508.60" y1="114.60" x2="508.60" y2="115.90" stroke="#222" stroke-width="0.6"/>
<text x="510.60" y="119.60" font-size="5.0" stroke="#333" stroke-width="0.1" textLength="11.60" lengthAdjust="spacingAndGlyphs" fill="#333" text-anchor="end" transform="rotate(-45 510.60 119.60)">12,000</text>
<text x="403.60" y="49.25" font-size="5.8" stroke="#333" stroke-width="0.1" textLength="48.30" lengthAdjust="spacingAndGlyphs" fill="#333" text-anchor="middle" transform="rotate(-90 403.60 49.25)">Enrichment score (ES)</text>
<text x="400.30" y="101.10" font-size="6.6" stroke="#333" stroke-width="0.04" textLength="39.50" lengthAdjust="spacingAndGlyphs" fill="#333" text-anchor="middle" transform="rotate(-90 400.30 101.10)">Ranked list metric</text>
<text x="407.30" y="101.10" font-size="6.6" stroke="#333" stroke-width="0.04" textLength="27.50" lengthAdjust="spacingAndGlyphs" fill="#333" text-anchor="middle" transform="rotate(-90 407.30 101.10)">(PreRanked)</text>
<text x="438.90" y="137.00" font-size="7.4" stroke="#333" stroke-width="0.06" textLength="53.50" lengthAdjust="spacingAndGlyphs" fill="#333">Rank in ordered dataset</text>
<line x1="398.95" y1="144.80" x2="403.25" y2="144.80" stroke="#7cb94a" stroke-width="1.0"/>
<text x="404.45" y="146.30" font-size="5.0" stroke="#2a2a2a" stroke-width="0.03" textLength="34.50" lengthAdjust="spacingAndGlyphs" fill="#2a2a2a">Enrichment profile</text>
<line x1="444.45" y1="144.30" x2="446.95" y2="144.30" stroke="#555" stroke-width="0.5"/>
<line x1="444.45" y1="145.30" x2="446.95" y2="145.30" stroke="#555" stroke-width="0.5"/>
<text x="447.55" y="146.30" font-size="5.0" stroke="#2a2a2a" stroke-width="0.03" textLength="8.40" lengthAdjust="spacingAndGlyphs" fill="#2a2a2a">Hits</text>
<line x1="461.45" y1="143.60" x2="465.05" y2="143.60" stroke="#ccc" stroke-width="0.5"/>
<text x="465.75" y="146.30" font-size="5.0" textLength="3.00" lengthAdjust="spacingAndGlyphs" fill="#666">...</text>
<text x="470.65" y="146.30" font-size="5.0" stroke="#2a2a2a" stroke-width="0.03" textLength="41.80" lengthAdjust="spacingAndGlyphs" fill="#2a2a2a">Ranking metric scores</text>
<text x="420.00" y="24.60" font-size="6.6" stroke="#222" stroke-width="0.06" textLength="90.00" lengthAdjust="spacingAndGlyphs">GNATENKO_Platelet Signature</text>
<text x="476.20" y="36.50" font-size="4.5" stroke="#2a2a2a" stroke-width="0.04" textLength="20.30" lengthAdjust="spacingAndGlyphs" fill="#2a2a2a">NES: -1.96</text>
<text x="476.20" y="41.45" font-size="4.5" stroke="#2a2a2a" stroke-width="0.04" textLength="22.60" lengthAdjust="spacingAndGlyphs" fill="#2a2a2a">p-value: 0.0</text>
<text x="476.20" y="46.40" font-size="4.5" stroke="#2a2a2a" stroke-width="0.04" textLength="26.90" lengthAdjust="spacingAndGlyphs" fill="#2a2a2a">FDR q: 0.0127</text>
<line x1="289.30" y1="177.20" x2="383.20" y2="177.20" stroke="#efefef" stroke-width="0.5"/>
<line x1="289.30" y1="181.68" x2="383.20" y2="181.68" stroke="#efefef" stroke-width="0.5"/>
<line x1="289.30" y1="186.15" x2="383.20" y2="186.15" stroke="#efefef" stroke-width="0.5"/>
<line x1="289.30" y1="190.62" x2="383.20" y2="190.62" stroke="#efefef" stroke-width="0.5"/>
<line x1="289.30" y1="195.10" x2="383.20" y2="195.10" stroke="#efefef" stroke-width="0.5"/>
<line x1="289.30" y1="199.57" x2="383.20" y2="199.57" stroke="#efefef" stroke-width="0.5"/>
<line x1="289.30" y1="204.05" x2="383.20" y2="204.05" stroke="#efefef" stroke-width="0.5"/>
<line x1="289.30" y1="208.53" x2="383.20" y2="208.53" stroke="#efefef" stroke-width="0.5"/>
<line x1="289.30" y1="213.00" x2="383.20" y2="213.00" stroke="#efefef" stroke-width="0.5"/>
<line x1="290.00" y1="174.40" x2="290.00" y2="214.80" stroke="#efefef" stroke-width="0.5"/>
<line x1="290.00" y1="232.60" x2="290.00" y2="260.30" stroke="#efefef" stroke-width="0.5"/>
<line x1="298.10" y1="174.40" x2="298.10" y2="214.80" stroke="#efefef" stroke-width="0.5"/>
<line x1="298.10" y1="232.60" x2="298.10" y2="260.30" stroke="#efefef" stroke-width="0.5"/>
<line x1="306.20" y1="174.40" x2="306.20" y2="214.80" stroke="#efefef" stroke-width="0.5"/>
<line x1="306.20" y1="232.60" x2="306.20" y2="260.30" stroke="#efefef" stroke-width="0.5"/>
<line x1="314.30" y1="174.40" x2="314.30" y2="214.80" stroke="#efefef" stroke-width="0.5"/>
<line x1="314.30" y1="232.60" x2="314.30" y2="260.30" stroke="#efefef" stroke-width="0.5"/>
<line x1="322.40" y1="174.40" x2="322.40" y2="214.80" stroke="#efefef" stroke-width="0.5"/>
<line x1="322.40" y1="232.60" x2="322.40" y2="260.30" stroke="#efefef" stroke-width="0.5"/>
<line x1="330.50" y1="174.40" x2="330.50" y2="214.80" stroke="#efefef" stroke-width="0.5"/>
<line x1="330.50" y1="232.60" x2="330.50" y2="260.30" stroke="#efefef" stroke-width="0.5"/>
<line x1="338.60" y1="174.40" x2="338.60" y2="214.80" stroke="#efefef" stroke-width="0.5"/>
<line x1="338.60" y1="232.60" x2="338.60" y2="260.30" stroke="#efefef" stroke-width="0.5"/>
<line x1="346.70" y1="174.40" x2="346.70" y2="214.80" stroke="#efefef" stroke-width="0.5"/>
<line x1="346.70" y1="232.60" x2="346.70" y2="260.30" stroke="#efefef" stroke-width="0.5"/>
<line x1="354.80" y1="174.40" x2="354.80" y2="214.80" stroke="#efefef" stroke-width="0.5"/>
<line x1="354.80" y1="232.60" x2="354.80" y2="260.30" stroke="#efefef" stroke-width="0.5"/>
<line x1="362.90" y1="174.40" x2="362.90" y2="214.80" stroke="#efefef" stroke-width="0.5"/>
<line x1="362.90" y1="232.60" x2="362.90" y2="260.30" stroke="#efefef" stroke-width="0.5"/>
<line x1="371.00" y1="174.40" x2="371.00" y2="214.80" stroke="#efefef" stroke-width="0.5"/>
<line x1="371.00" y1="232.60" x2="371.00" y2="260.30" stroke="#efefef" stroke-width="0.5"/>
<line x1="379.10" y1="174.40" x2="379.10" y2="214.80" stroke="#efefef" stroke-width="0.5"/>
<line x1="379.10" y1="232.60" x2="379.10" y2="260.30" stroke="#efefef" stroke-width="0.5"/>
<line x1="289.30" y1="213.00" x2="383.20" y2="213.00" stroke="#d4d4d4" stroke-width="1.1"/>
<polyline points="290.0,212.6 291.3,204.7 292.9,195.7 293.9,189.8 295.3,188.2 297.3,186.8 298.9,183.9 299.9,184.3 301.8,178.9 303.8,176.5 319.7,183.9 353.3,199.7 380.0,212.6" fill="none" stroke="#7cb94a" stroke-width="1.2" stroke-linejoin="round"/>
<rect x="290.30" y="216.20" width="1.40" height="12.70" fill="rgb(110,110,110)"/>
<rect x="291.70" y="216.20" width="2.80" height="12.70" fill="rgb(90,90,90)"/>
<rect x="294.50" y="216.20" width="0.90" height="12.70" fill="rgb(190,190,190)"/>
<rect x="295.40" y="216.20" width="3.20" height="12.70" fill="rgb(200,200,200)"/>
<rect x="300.00" y="216.20" width="0.90" height="12.70" fill="rgb(90,90,90)"/>
<rect x="301.70" y="216.20" width="1.10" height="12.70" fill="rgb(80,80,80)"/>
<rect x="318.00" y="216.20" width="0.90" height="12.70" fill="rgb(120,120,120)"/>
<rect x="352.40" y="216.20" width="0.80" height="12.70" fill="rgb(140,140,140)"/>
<defs><linearGradient id="cb3" x1="0" x2="1" y1="0" y2="0"><stop offset="0.000" stop-color="#cc4a55"/><stop offset="0.162" stop-color="#d0545e"/><stop offset="0.180" stop-color="#d86c76"/><stop offset="0.350" stop-color="#dc7880"/><stop offset="0.360" stop-color="#e2a2c8"/><stop offset="0.510" stop-color="#e6b0d4"/><stop offset="0.520" stop-color="#d4d2ee"/><stop offset="0.665" stop-color="#c8c8ea"/><stop offset="0.675" stop-color="#b6b6e2"/><stop offset="0.750" stop-color="#b0b0de"/><stop offset="0.760" stop-color="#5a60b6"/><stop offset="0.815" stop-color="#5258b2"/><stop offset="0.825" stop-color="#363c9e"/><stop offset="1.000" stop-color="#2a2e90"/></linearGradient></defs>
<rect x="290.00" y="229.40" width="89.80" height="3.20" fill="url(#cb3)"/>
<text x="290.20" y="234.70" font-size="2.4" stroke="#d04040" stroke-width="0.12" textLength="28.80" lengthAdjust="spacingAndGlyphs" fill="#d04040">na_pos (positively correlated)</text>
<line x1="289.30" y1="248.20" x2="383.20" y2="248.20" stroke="#e6e6e6" stroke-width="0.6"/>
<path d="M290.00,246.40 L291.50,246.52 L292.99,246.62 L294.49,246.73 L295.99,246.82 L297.48,246.91 L298.98,246.99 L300.48,247.07 L301.97,247.14 L303.47,247.21 L304.97,247.28 L306.46,247.34 L307.96,247.39 L309.46,247.44 L310.95,247.49 L312.45,247.54 L313.95,247.58 L315.44,247.62 L316.94,247.66 L318.44,247.69 L319.93,247.73 L321.43,247.76 L322.93,247.78 L324.42,247.81 L325.92,247.84 L327.42,247.86 L328.91,247.88 L330.41,247.90 L331.91,247.92 L333.40,247.94 L334.90,247.96 L336.40,247.97 L337.89,247.99 L339.39,248.00 L340.89,248.01 L342.38,248.03 L343.88,248.04 L345.38,248.05 L346.87,248.06 L348.37,248.07 L349.87,248.07 L351.36,248.08 L352.86,248.09 L354.36,248.10 L355.85,248.10 L357.35,248.11 L358.85,248.12 L360.34,248.12 L361.84,248.13 L363.34,248.13 L364.83,248.14 L366.33,248.14 L367.83,248.14 L369.32,248.15 L370.82,248.15 L372.32,248.15 L373.81,248.16 L375.31,248.16 L376.81,248.16 L378.30,248.16 L379.80,248.17 L379.80,255.00 L378.30,253.44 L376.81,252.32 L375.31,251.52 L373.81,250.95 L372.32,250.54 L370.82,250.24 L369.32,250.03 L367.83,249.88 L366.33,249.77 L364.83,249.70 L363.34,249.64 L361.84,249.60 L360.34,249.57 L358.85,249.55 L357.35,249.54 L355.85,249.53 L354.36,249.52 L352.86,249.51 L351.36,249.51 L349.87,249.51 L348.37,249.51 L346.87,249.50 L345.38,249.50 L343.88,249.50 L342.38,249.50 L340.89,249.50 L339.39,249.50 L337.89,249.50 L336.40,249.50 L334.90,249.50 L333.40,249.50 L331.91,249.50 L330.41,249.50 L328.91,249.50 L327.42,249.50 L325.92,249.50 L324.42,249.50 L322.93,249.50 L321.43,249.50 L319.93,249.50 L318.44,249.50 L316.94,249.50 L315.44,249.50 L313.95,249.50 L312.45,249.50 L310.95,249.50 L309.46,249.50 L307.96,249.50 L306.46,249.50 L304.97,249.50 L303.47,249.50 L301.97,249.50 L300.48,249.50 L298.98,249.50 L297.48,249.50 L295.99,249.50 L294.49,249.50 L292.99,249.50 L291.50,249.50 L290.00,249.50 Z" fill="#d6d6d6" stroke="#b0b0b0" stroke-width="0.35"/>
<text x="328.25" y="247.70" font-size="2.4" stroke="#444" stroke-width="0.12" textLength="14.50" lengthAdjust="spacingAndGlyphs" fill="#444">Zero cross at 5890</text>
<text x="337.14" y="258.90" font-size="2.4" stroke="#4a4ab8" stroke-width="0.12" textLength="30.40" lengthAdjust="spacingAndGlyphs" fill="#4a4ab8">na_neg (negatively correlated)</text>
<text x="297.70" y="242.00" font-size="4.8" stroke="#222" stroke-width="0.12" textLength="6.40" lengthAdjust="spacingAndGlyphs">WT</text>
<text x="366.00" y="242.00" font-size="4.8" stroke="#222" stroke-width="0.12" textLength="7.70" lengthAdjust="spacingAndGlyphs">G1s</text>
<path d="M289.3 174.4 H383.2 V260.3 H289.3 Z" fill="none" stroke="#222" stroke-width="0.8"/>
<line x1="289.30" y1="214.80" x2="383.20" y2="214.80" stroke="#c8c8c8" stroke-width="0.4"/>
<line x1="288.00" y1="177.20" x2="289.30" y2="177.20" stroke="#222" stroke-width="0.6"/>
<text x="286.30" y="178.75" font-size="4.2" stroke="#333" stroke-width="0.05" textLength="6.30" lengthAdjust="spacingAndGlyphs" fill="#333" text-anchor="end">0.8</text>
<line x1="288.00" y1="181.68" x2="289.30" y2="181.68" stroke="#222" stroke-width="0.6"/>
<text x="286.30" y="183.22" font-size="4.2" stroke="#333" stroke-width="0.05" textLength="6.30" lengthAdjust="spacingAndGlyphs" fill="#333" text-anchor="end">0.7</text>
<line x1="288.00" y1="186.15" x2="289.30" y2="186.15" stroke="#222" stroke-width="0.6"/>
<text x="286.30" y="187.70" font-size="4.2" stroke="#333" stroke-width="0.05" textLength="6.30" lengthAdjust="spacingAndGlyphs" fill="#333" text-anchor="end">0.6</text>
<line x1="288.00" y1="190.62" x2="289.30" y2="190.62" stroke="#222" stroke-width="0.6"/>
<text x="286.30" y="192.17" font-size="4.2" stroke="#333" stroke-width="0.05" textLength="6.30" lengthAdjust="spacingAndGlyphs" fill="#333" text-anchor="end">0.5</text>
<line x1="288.00" y1="195.10" x2="289.30" y2="195.10" stroke="#222" stroke-width="0.6"/>
<text x="286.30" y="196.65" font-size="4.2" stroke="#333" stroke-width="0.05" textLength="6.30" lengthAdjust="spacingAndGlyphs" fill="#333" text-anchor="end">0.4</text>
<line x1="288.00" y1="199.57" x2="289.30" y2="199.57" stroke="#222" stroke-width="0.6"/>
<text x="286.30" y="201.12" font-size="4.2" stroke="#333" stroke-width="0.05" textLength="6.30" lengthAdjust="spacingAndGlyphs" fill="#333" text-anchor="end">0.3</text>
<line x1="288.00" y1="204.05" x2="289.30" y2="204.05" stroke="#222" stroke-width="0.6"/>
<text x="286.30" y="205.60" font-size="4.2" stroke="#333" stroke-width="0.05" textLength="6.30" lengthAdjust="spacingAndGlyphs" fill="#333" text-anchor="end">0.2</text>
<line x1="288.00" y1="208.53" x2="289.30" y2="208.53" stroke="#222" stroke-width="0.6"/>
<text x="286.30" y="210.07" font-size="4.2" stroke="#333" stroke-width="0.05" textLength="6.30" lengthAdjust="spacingAndGlyphs" fill="#333" text-anchor="end">0.1</text>
<line x1="288.00" y1="213.00" x2="289.30" y2="213.00" stroke="#222" stroke-width="0.6"/>
<text x="286.30" y="214.55" font-size="4.2" stroke="#333" stroke-width="0.05" textLength="6.30" lengthAdjust="spacingAndGlyphs" fill="#333" text-anchor="end">0.0</text>
<line x1="288.00" y1="233.30" x2="289.30" y2="233.30" stroke="#222" stroke-width="0.6"/>
<text x="286.70" y="234.80" font-size="4.7" stroke="#333" stroke-width="0.12" textLength="6.20" lengthAdjust="spacingAndGlyphs" fill="#333" text-anchor="end">7.5</text>
<line x1="288.00" y1="238.30" x2="289.30" y2="238.30" stroke="#222" stroke-width="0.6"/>
<text x="286.70" y="239.80" font-size="4.7" stroke="#333" stroke-width="0.12" textLength="6.20" lengthAdjust="spacingAndGlyphs" fill="#333" text-anchor="end">5.0</text>
<line x1="288.00" y1="243.60" x2="289.30" y2="243.60" stroke="#222" stroke-width="0.6"/>
<text x="286.70" y="245.10" font-size="4.7" stroke="#333" stroke-width="0.12" textLength="6.20" lengthAdjust="spacingAndGlyphs" fill="#333" text-anchor="end">2.5</text>
<line x1="288.00" y1="248.70" x2="289.30" y2="248.70" stroke="#222" stroke-width="0.6"/>
<text x="286.70" y="250.20" font-size="4.7" stroke="#333" stroke-width="0.12" textLength="6.20" lengthAdjust="spacingAndGlyphs" fill="#333" text-anchor="end">0.0</text>
<line x1="288.00" y1="254.20" x2="289.30" y2="254.20" stroke="#222" stroke-width="0.6"/>
<text x="286.70" y="255.70" font-size="4.7" stroke="#333" stroke-width="0.12" textLength="7.40" lengthAdjust="spacingAndGlyphs" fill="#333" text-anchor="end">−2.5</text>
<line x1="288.00" y1="259.30" x2="289.30" y2="259.30" stroke="#222" stroke-width="0.6"/>
<text x="286.70" y="260.80" font-size="4.7" stroke="#333" stroke-width="0.12" textLength="7.40" lengthAdjust="spacingAndGlyphs" fill="#333" text-anchor="end">−5.0</text>
<line x1="290.00" y1="260.30" x2="290.00" y2="261.60" stroke="#222" stroke-width="0.6"/>
<text x="292.00" y="265.30" font-size="5.0" stroke="#333" stroke-width="0.1" textLength="2.60" lengthAdjust="spacingAndGlyphs" fill="#333" text-anchor="end" transform="rotate(-45 292.00 265.30)">0</text>
<line x1="298.10" y1="260.30" x2="298.10" y2="261.60" stroke="#222" stroke-width="0.6"/>
<text x="300.10" y="265.30" font-size="5.0" stroke="#333" stroke-width="0.1" textLength="9.90" lengthAdjust="spacingAndGlyphs" fill="#333" text-anchor="end" transform="rotate(-45 300.10 265.30)">1,000</text>
<line x1="306.20" y1="260.30" x2="306.20" y2="261.60" stroke="#222" stroke-width="0.6"/>
<text x="308.20" y="265.30" font-size="5.0" stroke="#333" stroke-width="0.1" textLength="9.90" lengthAdjust="spacingAndGlyphs" fill="#333" text-anchor="end" transform="rotate(-45 308.20 265.30)">2,000</text>
<line x1="314.30" y1="260.30" x2="314.30" y2="261.60" stroke="#222" stroke-width="0.6"/>
<text x="316.30" y="265.30" font-size="5.0" stroke="#333" stroke-width="0.1" textLength="9.90" lengthAdjust="spacingAndGlyphs" fill="#333" text-anchor="end" transform="rotate(-45 316.30 265.30)">3,000</text>
<line x1="322.40" y1="260.30" x2="322.40" y2="261.60" stroke="#222" stroke-width="0.6"/>
<text x="324.40" y="265.30" font-size="5.0" stroke="#333" stroke-width="0.1" textLength="9.90" lengthAdjust="spacingAndGlyphs" fill="#333" text-anchor="end" transform="rotate(-45 324.40 265.30)">4,000</text>
<line x1="330.50" y1="260.30" x2="330.50" y2="261.60" stroke="#222" stroke-width="0.6"/>
<text x="332.50" y="265.30" font-size="5.0" stroke="#333" stroke-width="0.1" textLength="9.90" lengthAdjust="spacingAndGlyphs" fill="#333" text-anchor="end" transform="rotate(-45 332.50 265.30)">5,000</text>
<line x1="338.60" y1="260.30" x2="338.60" y2="261.60" stroke="#222" stroke-width="0.6"/>
<text x="340.60" y="265.30" font-size="5.0" stroke="#333" stroke-width="0.1" textLength="9.90" lengthAdjust="spacingAndGlyphs" fill="#333" text-anchor="end" transform="rotate(-45 340.60 265.30)">6,000</text>
<line x1="346.70" y1="260.30" x2="346.70" y2="261.60" stroke="#222" stroke-width="0.6"/>
<text x="348.70" y="265.30" font-size="5.0" stroke="#333" stroke-width="0.1" textLength="9.90" lengthAdjust="spacingAndGlyphs" fill="#333" text-anchor="end" transform="rotate(-45 348.70 265.30)">7,000</text>
<line x1="354.80" y1="260.30" x2="354.80" y2="261.60" stroke="#222" stroke-width="0.6"/>
<text x="356.80" y="265.30" font-size="5.0" stroke="#333" stroke-width="0.1" textLength="9.90" lengthAdjust="spacingAndGlyphs" fill="#333" text-anchor="end" transform="rotate(-45 356.80 265.30)">8,000</text>
<line x1="362.90" y1="260.30" x2="362.90" y2="261.60" stroke="#222" stroke-width="0.6"/>
<text x="364.90" y="265.30" font-size="5.0" stroke="#333" stroke-width="0.1" textLength="9.90" lengthAdjust="spacingAndGlyphs" fill="#333" text-anchor="end" transform="rotate(-45 364.90 265.30)">9,000</text>
<line x1="371.00" y1="260.30" x2="371.00" y2="261.60" stroke="#222" stroke-width="0.6"/>
<text x="373.00" y="265.30" font-size="5.0" stroke="#333" stroke-width="0.1" textLength="11.60" lengthAdjust="spacingAndGlyphs" fill="#333" text-anchor="end" transform="rotate(-45 373.00 265.30)">10,000</text>
<line x1="379.10" y1="260.30" x2="379.10" y2="261.60" stroke="#222" stroke-width="0.6"/>
<text x="381.10" y="265.30" font-size="5.0" stroke="#333" stroke-width="0.1" textLength="11.60" lengthAdjust="spacingAndGlyphs" fill="#333" text-anchor="end" transform="rotate(-45 381.10 265.30)">11,000</text>
<text x="276.20" y="190.70" font-size="5.8" stroke="#333" stroke-width="0.1" textLength="44.70" lengthAdjust="spacingAndGlyphs" fill="#333" text-anchor="middle" transform="rotate(-90 276.20 190.70)">Enrichment score (ES)</text>
<text x="268.00" y="245.85" font-size="6.6" stroke="#333" stroke-width="0.04" textLength="39.50" lengthAdjust="spacingAndGlyphs" fill="#333" text-anchor="middle" transform="rotate(-90 268.00 245.85)">Ranked list metric</text>
<text x="274.80" y="245.85" font-size="6.6" stroke="#333" stroke-width="0.04" textLength="27.50" lengthAdjust="spacingAndGlyphs" fill="#333" text-anchor="middle" transform="rotate(-90 274.80 245.85)">(PreRanked)</text>
<text x="310.20" y="282.00" font-size="7.4" stroke="#333" stroke-width="0.06" textLength="53.50" lengthAdjust="spacingAndGlyphs" fill="#333">Rank in ordered dataset</text>
<line x1="270.00" y1="290.20" x2="274.30" y2="290.20" stroke="#7cb94a" stroke-width="1.0"/>
<text x="275.50" y="291.70" font-size="5.0" stroke="#2a2a2a" stroke-width="0.03" textLength="34.50" lengthAdjust="spacingAndGlyphs" fill="#2a2a2a">Enrichment profile</text>
<line x1="315.50" y1="289.70" x2="318.00" y2="289.70" stroke="#555" stroke-width="0.5"/>
<line x1="315.50" y1="290.70" x2="318.00" y2="290.70" stroke="#555" stroke-width="0.5"/>
<text x="318.60" y="291.70" font-size="5.0" stroke="#2a2a2a" stroke-width="0.03" textLength="8.40" lengthAdjust="spacingAndGlyphs" fill="#2a2a2a">Hits</text>
<line x1="332.50" y1="289.00" x2="336.10" y2="289.00" stroke="#ccc" stroke-width="0.5"/>
<text x="336.80" y="291.70" font-size="5.0" textLength="3.00" lengthAdjust="spacingAndGlyphs" fill="#666">...</text>
<text x="341.70" y="291.70" font-size="5.0" stroke="#2a2a2a" stroke-width="0.03" textLength="41.80" lengthAdjust="spacingAndGlyphs" fill="#2a2a2a">Ranking metric scores</text>
<text x="302.50" y="170.60" font-size="6.6" stroke="#222" stroke-width="0.06" textLength="68.70" lengthAdjust="spacingAndGlyphs">WELCH_GATA1 Targets</text>
<text x="350.20" y="183.80" font-size="4.5" stroke="#2a2a2a" stroke-width="0.04" textLength="18.30" lengthAdjust="spacingAndGlyphs" fill="#2a2a2a">NES: 2.19</text>
<text x="350.20" y="188.30" font-size="4.5" stroke="#2a2a2a" stroke-width="0.04" textLength="22.10" lengthAdjust="spacingAndGlyphs" fill="#2a2a2a">p-value: 0.0</text>
<text x="350.20" y="192.80" font-size="4.5" stroke="#2a2a2a" stroke-width="0.04" textLength="24.40" lengthAdjust="spacingAndGlyphs" fill="#2a2a2a">FDR q: 0.001</text>
<line x1="417.70" y1="179.16" x2="511.80" y2="179.16" stroke="#efefef" stroke-width="0.5"/>
<line x1="417.70" y1="184.55" x2="511.80" y2="184.55" stroke="#efefef" stroke-width="0.5"/>
<line x1="417.70" y1="189.94" x2="511.80" y2="189.94" stroke="#efefef" stroke-width="0.5"/>
<line x1="417.70" y1="195.33" x2="511.80" y2="195.33" stroke="#efefef" stroke-width="0.5"/>
<line x1="417.70" y1="200.72" x2="511.80" y2="200.72" stroke="#efefef" stroke-width="0.5"/>
<line x1="417.70" y1="206.11" x2="511.80" y2="206.11" stroke="#efefef" stroke-width="0.5"/>
<line x1="417.70" y1="211.50" x2="511.80" y2="211.50" stroke="#efefef" stroke-width="0.5"/>
<line x1="418.00" y1="174.40" x2="418.00" y2="215.00" stroke="#efefef" stroke-width="0.5"/>
<line x1="418.00" y1="232.70" x2="418.00" y2="260.50" stroke="#efefef" stroke-width="0.5"/>
<line x1="426.10" y1="174.40" x2="426.10" y2="215.00" stroke="#efefef" stroke-width="0.5"/>
<line x1="426.10" y1="232.70" x2="426.10" y2="260.50" stroke="#efefef" stroke-width="0.5"/>
<line x1="434.20" y1="174.40" x2="434.20" y2="215.00" stroke="#efefef" stroke-width="0.5"/>
<line x1="434.20" y1="232.70" x2="434.20" y2="260.50" stroke="#efefef" stroke-width="0.5"/>
<line x1="442.30" y1="174.40" x2="442.30" y2="215.00" stroke="#efefef" stroke-width="0.5"/>
<line x1="442.30" y1="232.70" x2="442.30" y2="260.50" stroke="#efefef" stroke-width="0.5"/>
<line x1="450.40" y1="174.40" x2="450.40" y2="215.00" stroke="#efefef" stroke-width="0.5"/>
<line x1="450.40" y1="232.70" x2="450.40" y2="260.50" stroke="#efefef" stroke-width="0.5"/>
<line x1="458.50" y1="174.40" x2="458.50" y2="215.00" stroke="#efefef" stroke-width="0.5"/>
<line x1="458.50" y1="232.70" x2="458.50" y2="260.50" stroke="#efefef" stroke-width="0.5"/>
<line x1="466.60" y1="174.40" x2="466.60" y2="215.00" stroke="#efefef" stroke-width="0.5"/>
<line x1="466.60" y1="232.70" x2="466.60" y2="260.50" stroke="#efefef" stroke-width="0.5"/>
<line x1="474.70" y1="174.40" x2="474.70" y2="215.00" stroke="#efefef" stroke-width="0.5"/>
<line x1="474.70" y1="232.70" x2="474.70" y2="260.50" stroke="#efefef" stroke-width="0.5"/>
<line x1="482.80" y1="174.40" x2="482.80" y2="215.00" stroke="#efefef" stroke-width="0.5"/>
<line x1="482.80" y1="232.70" x2="482.80" y2="260.50" stroke="#efefef" stroke-width="0.5"/>
<line x1="490.90" y1="174.40" x2="490.90" y2="215.00" stroke="#efefef" stroke-width="0.5"/>
<line x1="490.90" y1="232.70" x2="490.90" y2="260.50" stroke="#efefef" stroke-width="0.5"/>
<line x1="499.00" y1="174.40" x2="499.00" y2="215.00" stroke="#efefef" stroke-width="0.5"/>
<line x1="499.00" y1="232.70" x2="499.00" y2="260.50" stroke="#efefef" stroke-width="0.5"/>
<line x1="507.10" y1="174.40" x2="507.10" y2="215.00" stroke="#efefef" stroke-width="0.5"/>
<line x1="507.10" y1="232.70" x2="507.10" y2="260.50" stroke="#efefef" stroke-width="0.5"/>
<line x1="417.70" y1="211.50" x2="511.80" y2="211.50" stroke="#d4d4d4" stroke-width="1.1"/>
<polyline points="418.0,206.6 419.0,201.7 420.3,191.8 421.9,183.9 423.9,178.9 426.9,178.9 428.4,177.5 430.8,176.3 433.8,176.5 438.7,177.9 446.7,181.9 470.0,194.5 492.2,207.6 500.1,211.0 503.1,210.6 505.1,212.6 507.1,211.6" fill="none" stroke="#7cb94a" stroke-width="1.2" stroke-linejoin="round"/>
<rect x="418.30" y="216.20" width="5.50" height="12.70" fill="rgb(25,25,25)"/>
<rect x="423.80" y="216.20" width="1.00" height="12.70" fill="rgb(120,120,120)"/>
<rect x="424.80" y="216.20" width="1.80" height="12.70" fill="rgb(220,220,220)"/>
<rect x="426.60" y="216.20" width="3.30" height="12.70" fill="rgb(50,50,50)"/>
<rect x="429.90" y="216.20" width="1.30" height="12.70" fill="rgb(120,120,120)"/>
<rect x="431.20" y="216.20" width="1.90" height="12.70" fill="rgb(100,100,100)"/>
<rect x="433.10" y="216.20" width="1.40" height="12.70" fill="rgb(180,180,180)"/>
<rect x="434.50" y="216.20" width="1.40" height="12.70" fill="rgb(130,130,130)"/>
<rect x="436.80" y="216.20" width="2.30" height="12.70" fill="rgb(60,60,60)"/>
<rect x="439.10" y="216.20" width="1.40" height="12.70" fill="rgb(200,200,200)"/>
<rect x="440.50" y="216.20" width="2.30" height="12.70" fill="rgb(80,80,80)"/>
<rect x="442.80" y="216.20" width="1.40" height="12.70" fill="rgb(220,220,220)"/>
<rect x="444.20" y="216.20" width="1.30" height="12.70" fill="rgb(140,140,140)"/>
<rect x="445.50" y="216.20" width="1.90" height="12.70" fill="rgb(210,210,210)"/>
<rect x="447.40" y="216.20" width="0.90" height="12.70" fill="rgb(90,90,90)"/>
<rect x="448.80" y="216.20" width="1.40" height="12.70" fill="rgb(150,150,150)"/>
<rect x="450.20" y="216.20" width="1.80" height="12.70" fill="rgb(220,220,220)"/>
<rect x="454.80" y="216.20" width="1.40" height="12.70" fill="rgb(180,180,180)"/>
<rect x="457.10" y="216.20" width="2.30" height="12.70" fill="rgb(70,70,70)"/>
<rect x="459.40" y="216.20" width="1.40" height="12.70" fill="rgb(150,150,150)"/>
<rect x="460.80" y="216.20" width="1.80" height="12.70" fill="rgb(200,200,200)"/>
<rect x="462.60" y="216.20" width="1.20" height="12.70" fill="rgb(100,100,100)"/>
<rect x="464.80" y="216.20" width="2.30" height="12.70" fill="rgb(100,100,100)"/>
<rect x="467.50" y="216.20" width="1.90" height="12.70" fill="rgb(210,210,210)"/>
<rect x="470.30" y="216.20" width="3.20" height="12.70" fill="rgb(140,140,140)"/>
<rect x="474.90" y="216.20" width="1.90" height="12.70" fill="rgb(110,110,110)"/>
<rect x="478.20" y="216.20" width="1.80" height="12.70" fill="rgb(100,100,100)"/>
<rect x="480.00" y="216.20" width="2.80" height="12.70" fill="rgb(190,190,190)"/>
<rect x="486.50" y="216.20" width="1.40" height="12.70" fill="rgb(70,70,70)"/>
<rect x="490.60" y="216.20" width="2.30" height="12.70" fill="rgb(150,150,150)"/>
<rect x="499.90" y="216.20" width="1.30" height="12.70" fill="rgb(50,50,50)"/>
<rect x="505.90" y="216.20" width="1.30" height="12.70" fill="rgb(140,140,140)"/>
<defs><linearGradient id="cb4" x1="0" x2="1" y1="0" y2="0"><stop offset="0.000" stop-color="#cc4a55"/><stop offset="0.162" stop-color="#d0545e"/><stop offset="0.180" stop-color="#d86c76"/><stop offset="0.350" stop-color="#dc7880"/><stop offset="0.360" stop-color="#e2a2c8"/><stop offset="0.500" stop-color="#e6b0d4"/><stop offset="0.510" stop-color="#d4d2ee"/><stop offset="0.665" stop-color="#c8c8ea"/><stop offset="0.675" stop-color="#b6b6e2"/><stop offset="0.750" stop-color="#b0b0de"/><stop offset="0.760" stop-color="#5a60b6"/><stop offset="0.825" stop-color="#5258b2"/><stop offset="0.835" stop-color="#363c9e"/><stop offset="1.000" stop-color="#2a2e90"/></linearGradient></defs>
<rect x="418.00" y="229.50" width="89.50" height="3.20" fill="url(#cb4)"/>
<text x="418.20" y="234.80" font-size="2.4" stroke="#d04040" stroke-width="0.12" textLength="28.80" lengthAdjust="spacingAndGlyphs" fill="#d04040">na_pos (positively correlated)</text>
<line x1="417.70" y1="248.30" x2="511.80" y2="248.30" stroke="#e6e6e6" stroke-width="0.6"/>
<path d="M418.00,245.30 L419.49,245.59 L420.98,245.84 L422.48,246.08 L423.97,246.29 L425.46,246.48 L426.95,246.65 L428.44,246.81 L429.93,246.95 L431.43,247.08 L432.92,247.20 L434.41,247.30 L435.90,247.40 L437.39,247.48 L438.88,247.56 L440.38,247.63 L441.87,247.69 L443.36,247.75 L444.85,247.80 L446.34,247.85 L447.83,247.89 L449.32,247.93 L450.82,247.97 L452.31,248.00 L453.80,248.03 L455.29,248.05 L456.78,248.08 L458.27,248.10 L459.77,248.12 L461.26,248.13 L462.75,248.15 L464.24,248.16 L465.73,248.18 L467.23,248.19 L468.72,248.20 L470.21,248.21 L471.70,248.22 L473.19,248.23 L474.68,248.23 L476.18,248.24 L477.67,248.25 L479.16,248.25 L480.65,248.26 L482.14,248.26 L483.63,248.26 L485.12,248.27 L486.62,248.27 L488.11,248.27 L489.60,248.28 L491.09,248.28 L492.58,248.28 L494.07,248.28 L495.57,248.28 L497.06,248.29 L498.55,248.29 L500.04,248.29 L501.53,248.29 L503.02,248.29 L504.52,248.29 L506.01,248.29 L507.50,248.29 L507.50,256.50 L506.01,254.23 L504.52,252.70 L503.02,251.68 L501.53,250.99 L500.04,250.53 L498.55,250.23 L497.06,250.02 L495.57,249.88 L494.07,249.79 L492.58,249.73 L491.09,249.68 L489.60,249.66 L488.11,249.64 L486.62,249.63 L485.12,249.62 L483.63,249.61 L482.14,249.61 L480.65,249.61 L479.16,249.60 L477.67,249.60 L476.18,249.60 L474.68,249.60 L473.19,249.60 L471.70,249.60 L470.21,249.60 L468.72,249.60 L467.23,249.60 L465.73,249.60 L464.24,249.60 L462.75,249.60 L461.26,249.60 L459.77,249.60 L458.27,249.60 L456.78,249.60 L455.29,249.60 L453.80,249.60 L452.31,249.60 L450.82,249.60 L449.32,249.60 L447.83,249.60 L446.34,249.60 L444.85,249.60 L443.36,249.60 L441.87,249.60 L440.38,249.60 L438.88,249.60 L437.39,249.60 L435.90,249.60 L434.41,249.60 L432.92,249.60 L431.43,249.60 L429.93,249.60 L428.44,249.60 L426.95,249.60 L425.46,249.60 L423.97,249.60 L422.48,249.60 L420.98,249.60 L419.49,249.60 L418.00,249.60 Z" fill="#d6d6d6" stroke="#b0b0b0" stroke-width="0.35"/>
<text x="456.13" y="247.80" font-size="2.4" stroke="#444" stroke-width="0.12" textLength="14.50" lengthAdjust="spacingAndGlyphs" fill="#444">Zero cross at 5890</text>
<text x="464.99" y="259.10" font-size="2.4" stroke="#4a4ab8" stroke-width="0.12" textLength="30.40" lengthAdjust="spacingAndGlyphs" fill="#4a4ab8">na_neg (negatively correlated)</text>
<text x="422.70" y="242.00" font-size="4.8" stroke="#222" stroke-width="0.12" textLength="6.40" lengthAdjust="spacingAndGlyphs">WT</text>
<text x="491.90" y="242.00" font-size="4.8" stroke="#222" stroke-width="0.12" textLength="7.70" lengthAdjust="spacingAndGlyphs">G1s</text>
<path d="M417.7 174.4 H511.8 V260.5 H417.7 Z" fill="none" stroke="#222" stroke-width="0.8"/>
<line x1="417.70" y1="215.00" x2="511.80" y2="215.00" stroke="#c8c8c8" stroke-width="0.4"/>
<line x1="416.40" y1="179.16" x2="417.70" y2="179.16" stroke="#222" stroke-width="0.6"/>
<text x="414.70" y="181.01" font-size="4.5" stroke="#333" stroke-width="0.05" textLength="6.30" lengthAdjust="spacingAndGlyphs" fill="#333" text-anchor="end">0.6</text>
<line x1="416.40" y1="184.55" x2="417.70" y2="184.55" stroke="#222" stroke-width="0.6"/>
<text x="414.70" y="186.40" font-size="4.5" stroke="#333" stroke-width="0.05" textLength="6.30" lengthAdjust="spacingAndGlyphs" fill="#333" text-anchor="end">0.5</text>
<line x1="416.40" y1="189.94" x2="417.70" y2="189.94" stroke="#222" stroke-width="0.6"/>
<text x="414.70" y="191.79" font-size="4.5" stroke="#333" stroke-width="0.05" textLength="6.30" lengthAdjust="spacingAndGlyphs" fill="#333" text-anchor="end">0.4</text>
<line x1="416.40" y1="195.33" x2="417.70" y2="195.33" stroke="#222" stroke-width="0.6"/>
<text x="414.70" y="197.18" font-size="4.5" stroke="#333" stroke-width="0.05" textLength="6.30" lengthAdjust="spacingAndGlyphs" fill="#333" text-anchor="end">0.3</text>
<line x1="416.40" y1="200.72" x2="417.70" y2="200.72" stroke="#222" stroke-width="0.6"/>
<text x="414.70" y="202.57" font-size="4.5" stroke="#333" stroke-width="0.05" textLength="6.30" lengthAdjust="spacingAndGlyphs" fill="#333" text-anchor="end">0.2</text>
<line x1="416.40" y1="206.11" x2="417.70" y2="206.11" stroke="#222" stroke-width="0.6"/>
<text x="414.70" y="207.96" font-size="4.5" stroke="#333" stroke-width="0.05" textLength="6.30" lengthAdjust="spacingAndGlyphs" fill="#333" text-anchor="end">0.1</text>
<line x1="416.40" y1="211.50" x2="417.70" y2="211.50" stroke="#222" stroke-width="0.6"/>
<text x="414.70" y="213.35" font-size="4.5" stroke="#333" stroke-width="0.05" textLength="6.30" lengthAdjust="spacingAndGlyphs" fill="#333" text-anchor="end">0.0</text>
<line x1="416.40" y1="233.50" x2="417.70" y2="233.50" stroke="#222" stroke-width="0.6"/>
<text x="415.10" y="235.00" font-size="4.7" stroke="#333" stroke-width="0.12" textLength="6.20" lengthAdjust="spacingAndGlyphs" fill="#333" text-anchor="end">7.5</text>
<line x1="416.40" y1="238.50" x2="417.70" y2="238.50" stroke="#222" stroke-width="0.6"/>
<text x="415.10" y="240.00" font-size="4.7" stroke="#333" stroke-width="0.12" textLength="6.20" lengthAdjust="spacingAndGlyphs" fill="#333" text-anchor="end">5.0</text>
<line x1="416.40" y1="243.80" x2="417.70" y2="243.80" stroke="#222" stroke-width="0.6"/>
<text x="415.10" y="245.30" font-size="4.7" stroke="#333" stroke-width="0.12" textLength="6.20" lengthAdjust="spacingAndGlyphs" fill="#333" text-anchor="end">2.5</text>
<line x1="416.40" y1="248.90" x2="417.70" y2="248.90" stroke="#222" stroke-width="0.6"/>
<text x="415.10" y="250.40" font-size="4.7" stroke="#333" stroke-width="0.12" textLength="6.20" lengthAdjust="spacingAndGlyphs" fill="#333" text-anchor="end">0.0</text>
<line x1="416.40" y1="254.40" x2="417.70" y2="254.40" stroke="#222" stroke-width="0.6"/>
<text x="415.10" y="255.90" font-size="4.7" stroke="#333" stroke-width="0.12" textLength="7.40" lengthAdjust="spacingAndGlyphs" fill="#333" text-anchor="end">−2.5</text>
<line x1="416.40" y1="259.50" x2="417.70" y2="259.50" stroke="#222" stroke-width="0.6"/>
<text x="415.10" y="261.00" font-size="4.7" stroke="#333" stroke-width="0.12" textLength="7.40" lengthAdjust="spacingAndGlyphs" fill="#333" text-anchor="end">−5.0</text>
<line x1="418.00" y1="260.50" x2="418.00" y2="261.80" stroke="#222" stroke-width="0.6"/>
<text x="420.00" y="265.50" font-size="5.0" stroke="#333" stroke-width="0.1" textLength="2.60" lengthAdjust="spacingAndGlyphs" fill="#333" text-anchor="end" transform="rotate(-45 420.00 265.50)">0</text>
<line x1="426.10" y1="260.50" x2="426.10" y2="261.80" stroke="#222" stroke-width="0.6"/>
<text x="428.10" y="265.50" font-size="5.0" stroke="#333" stroke-width="0.1" textLength="9.90" lengthAdjust="spacingAndGlyphs" fill="#333" text-anchor="end" transform="rotate(-45 428.10 265.50)">1,000</text>
<line x1="434.20" y1="260.50" x2="434.20" y2="261.80" stroke="#222" stroke-width="0.6"/>
<text x="436.20" y="265.50" font-size="5.0" stroke="#333" stroke-width="0.1" textLength="9.90" lengthAdjust="spacingAndGlyphs" fill="#333" text-anchor="end" transform="rotate(-45 436.20 265.50)">2,000</text>
<line x1="442.30" y1="260.50" x2="442.30" y2="261.80" stroke="#222" stroke-width="0.6"/>
<text x="444.30" y="265.50" font-size="5.0" stroke="#333" stroke-width="0.1" textLength="9.90" lengthAdjust="spacingAndGlyphs" fill="#333" text-anchor="end" transform="rotate(-45 444.30 265.50)">3,000</text>
<line x1="450.40" y1="260.50" x2="450.40" y2="261.80" stroke="#222" stroke-width="0.6"/>
<text x="452.40" y="265.50" font-size="5.0" stroke="#333" stroke-width="0.1" textLength="9.90" lengthAdjust="spacingAndGlyphs" fill="#333" text-anchor="end" transform="rotate(-45 452.40 265.50)">4,000</text>
<line x1="458.50" y1="260.50" x2="458.50" y2="261.80" stroke="#222" stroke-width="0.6"/>
<text x="460.50" y="265.50" font-size="5.0" stroke="#333" stroke-width="0.1" textLength="9.90" lengthAdjust="spacingAndGlyphs" fill="#333" text-anchor="end" transform="rotate(-45 460.50 265.50)">5,000</text>
<line x1="466.60" y1="260.50" x2="466.60" y2="261.80" stroke="#222" stroke-width="0.6"/>
<text x="468.60" y="265.50" font-size="5.0" stroke="#333" stroke-width="0.1" textLength="9.90" lengthAdjust="spacingAndGlyphs" fill="#333" text-anchor="end" transform="rotate(-45 468.60 265.50)">6,000</text>
<line x1="474.70" y1="260.50" x2="474.70" y2="261.80" stroke="#222" stroke-width="0.6"/>
<text x="476.70" y="265.50" font-size="5.0" stroke="#333" stroke-width="0.1" textLength="9.90" lengthAdjust="spacingAndGlyphs" fill="#333" text-anchor="end" transform="rotate(-45 476.70 265.50)">7,000</text>
<line x1="482.80" y1="260.50" x2="482.80" y2="261.80" stroke="#222" stroke-width="0.6"/>
<text x="484.80" y="265.50" font-size="5.0" stroke="#333" stroke-width="0.1" textLength="9.90" lengthAdjust="spacingAndGlyphs" fill="#333" text-anchor="end" transform="rotate(-45 484.80 265.50)">8,000</text>
<line x1="490.90" y1="260.50" x2="490.90" y2="261.80" stroke="#222" stroke-width="0.6"/>
<text x="492.90" y="265.50" font-size="5.0" stroke="#333" stroke-width="0.1" textLength="9.90" lengthAdjust="spacingAndGlyphs" fill="#333" text-anchor="end" transform="rotate(-45 492.90 265.50)">9,000</text>
<line x1="499.00" y1="260.50" x2="499.00" y2="261.80" stroke="#222" stroke-width="0.6"/>
<text x="501.00" y="265.50" font-size="5.0" stroke="#333" stroke-width="0.1" textLength="11.60" lengthAdjust="spacingAndGlyphs" fill="#333" text-anchor="end" transform="rotate(-45 501.00 265.50)">10,000</text>
<line x1="507.10" y1="260.50" x2="507.10" y2="261.80" stroke="#222" stroke-width="0.6"/>
<text x="509.10" y="265.50" font-size="5.0" stroke="#333" stroke-width="0.1" textLength="11.60" lengthAdjust="spacingAndGlyphs" fill="#333" text-anchor="end" transform="rotate(-45 509.10 265.50)">11,000</text>
<text x="404.20" y="191.40" font-size="5.8" stroke="#333" stroke-width="0.1" textLength="44.70" lengthAdjust="spacingAndGlyphs" fill="#333" text-anchor="middle" transform="rotate(-90 404.20 191.40)">Enrichment score (ES)</text>
<text x="398.80" y="246.00" font-size="6.6" stroke="#333" stroke-width="0.04" textLength="39.50" lengthAdjust="spacingAndGlyphs" fill="#333" text-anchor="middle" transform="rotate(-90 398.80 246.00)">Ranked list metric</text>
<text x="406.20" y="246.00" font-size="6.6" stroke="#333" stroke-width="0.04" textLength="27.50" lengthAdjust="spacingAndGlyphs" fill="#333" text-anchor="middle" transform="rotate(-90 406.20 246.00)">(PreRanked)</text>
<text x="438.20" y="282.00" font-size="7.4" stroke="#333" stroke-width="0.06" textLength="53.50" lengthAdjust="spacingAndGlyphs" fill="#333">Rank in ordered dataset</text>
<line x1="397.50" y1="290.20" x2="401.80" y2="290.20" stroke="#7cb94a" stroke-width="1.0"/>
<text x="403.00" y="291.70" font-size="5.0" stroke="#2a2a2a" stroke-width="0.03" textLength="34.50" lengthAdjust="spacingAndGlyphs" fill="#2a2a2a">Enrichment profile</text>
<line x1="443.00" y1="289.70" x2="445.50" y2="289.70" stroke="#555" stroke-width="0.5"/>
<line x1="443.00" y1="290.70" x2="445.50" y2="290.70" stroke="#555" stroke-width="0.5"/>
<text x="446.10" y="291.70" font-size="5.0" stroke="#2a2a2a" stroke-width="0.03" textLength="8.40" lengthAdjust="spacingAndGlyphs" fill="#2a2a2a">Hits</text>
<line x1="460.00" y1="289.00" x2="463.60" y2="289.00" stroke="#ccc" stroke-width="0.5"/>
<text x="464.30" y="291.70" font-size="5.0" textLength="3.00" lengthAdjust="spacingAndGlyphs" fill="#666">...</text>
<text x="469.20" y="291.70" font-size="5.0" stroke="#2a2a2a" stroke-width="0.03" textLength="41.80" lengthAdjust="spacingAndGlyphs" fill="#2a2a2a">Ranking metric scores</text>
<text x="426.20" y="170.60" font-size="6.6" stroke="#222" stroke-width="0.06" textLength="81.30" lengthAdjust="spacingAndGlyphs">Hallmark_Heme Metabolism</text>
<text x="481.40" y="183.50" font-size="4.5" stroke="#2a2a2a" stroke-width="0.04" textLength="18.60" lengthAdjust="spacingAndGlyphs" fill="#2a2a2a">NES: 2.68</text>
<text x="481.40" y="188.25" font-size="4.5" stroke="#2a2a2a" stroke-width="0.04" textLength="22.40" lengthAdjust="spacingAndGlyphs" fill="#2a2a2a">p-value: 0.0</text>
<text x="481.40" y="193.00" font-size="4.5" stroke="#2a2a2a" stroke-width="0.04" textLength="20.50" lengthAdjust="spacingAndGlyphs" fill="#2a2a2a">FDR q: 0.0</text>
<line x1="289.30" y1="317.40" x2="383.60" y2="317.40" stroke="#efefef" stroke-width="0.5"/>
<line x1="289.30" y1="323.10" x2="383.60" y2="323.10" stroke="#efefef" stroke-width="0.5"/>
<line x1="289.30" y1="328.80" x2="383.60" y2="328.80" stroke="#efefef" stroke-width="0.5"/>
<line x1="289.30" y1="334.50" x2="383.60" y2="334.50" stroke="#efefef" stroke-width="0.5"/>
<line x1="289.30" y1="340.20" x2="383.60" y2="340.20" stroke="#efefef" stroke-width="0.5"/>
<line x1="289.30" y1="345.90" x2="383.60" y2="345.90" stroke="#efefef" stroke-width="0.5"/>
<line x1="289.30" y1="351.60" x2="383.60" y2="351.60" stroke="#efefef" stroke-width="0.5"/>
<line x1="290.00" y1="316.90" x2="290.00" y2="355.20" stroke="#efefef" stroke-width="0.5"/>
<line x1="290.00" y1="372.00" x2="290.00" y2="398.70" stroke="#efefef" stroke-width="0.5"/>
<line x1="298.15" y1="316.90" x2="298.15" y2="355.20" stroke="#efefef" stroke-width="0.5"/>
<line x1="298.15" y1="372.00" x2="298.15" y2="398.70" stroke="#efefef" stroke-width="0.5"/>
<line x1="306.30" y1="316.90" x2="306.30" y2="355.20" stroke="#efefef" stroke-width="0.5"/>
<line x1="306.30" y1="372.00" x2="306.30" y2="398.70" stroke="#efefef" stroke-width="0.5"/>
<line x1="314.45" y1="316.90" x2="314.45" y2="355.20" stroke="#efefef" stroke-width="0.5"/>
<line x1="314.45" y1="372.00" x2="314.45" y2="398.70" stroke="#efefef" stroke-width="0.5"/>
<line x1="322.60" y1="316.90" x2="322.60" y2="355.20" stroke="#efefef" stroke-width="0.5"/>
<line x1="322.60" y1="372.00" x2="322.60" y2="398.70" stroke="#efefef" stroke-width="0.5"/>
<line x1="330.75" y1="316.90" x2="330.75" y2="355.20" stroke="#efefef" stroke-width="0.5"/>
<line x1="330.75" y1="372.00" x2="330.75" y2="398.70" stroke="#efefef" stroke-width="0.5"/>
<line x1="338.90" y1="316.90" x2="338.90" y2="355.20" stroke="#efefef" stroke-width="0.5"/>
<line x1="338.90" y1="372.00" x2="338.90" y2="398.70" stroke="#efefef" stroke-width="0.5"/>
<line x1="347.05" y1="316.90" x2="347.05" y2="355.20" stroke="#efefef" stroke-width="0.5"/>
<line x1="347.05" y1="372.00" x2="347.05" y2="398.70" stroke="#efefef" stroke-width="0.5"/>
<line x1="355.20" y1="316.90" x2="355.20" y2="355.20" stroke="#efefef" stroke-width="0.5"/>
<line x1="355.20" y1="372.00" x2="355.20" y2="398.70" stroke="#efefef" stroke-width="0.5"/>
<line x1="363.35" y1="316.90" x2="363.35" y2="355.20" stroke="#efefef" stroke-width="0.5"/>
<line x1="363.35" y1="372.00" x2="363.35" y2="398.70" stroke="#efefef" stroke-width="0.5"/>
<line x1="371.50" y1="316.90" x2="371.50" y2="355.20" stroke="#efefef" stroke-width="0.5"/>
<line x1="371.50" y1="372.00" x2="371.50" y2="398.70" stroke="#efefef" stroke-width="0.5"/>
<line x1="379.65" y1="316.90" x2="379.65" y2="355.20" stroke="#efefef" stroke-width="0.5"/>
<line x1="379.65" y1="372.00" x2="379.65" y2="398.70" stroke="#efefef" stroke-width="0.5"/>
<line x1="289.30" y1="351.60" x2="383.60" y2="351.60" stroke="#d4d4d4" stroke-width="1.1"/>
<polyline points="289.9,347.6 290.9,339.7 292.3,329.8 294.3,323.9 296.9,321.9 300.8,319.9 303.8,318.9 309.7,318.9 315.7,320.9 323.6,325.8 339.4,334.8 353.3,342.7 367.2,349.2 375.1,352.6 378.1,353.2 380.0,351.6" fill="none" stroke="#7cb94a" stroke-width="1.2" stroke-linejoin="round"/>
<rect x="290.30" y="356.50" width="4.20" height="12.30" fill="rgb(20,20,20)"/>
<rect x="294.50" y="356.50" width="0.90" height="12.30" fill="rgb(80,80,80)"/>
<rect x="295.40" y="356.50" width="1.40" height="12.30" fill="rgb(30,30,30)"/>
<rect x="296.80" y="356.50" width="1.80" height="12.30" fill="rgb(110,110,110)"/>
<rect x="298.60" y="356.50" width="1.90" height="12.30" fill="rgb(30,30,30)"/>
<rect x="300.50" y="356.50" width="1.30" height="12.30" fill="rgb(100,100,100)"/>
<rect x="301.80" y="356.50" width="1.90" height="12.30" fill="rgb(25,25,25)"/>
<rect x="303.70" y="356.50" width="2.30" height="12.30" fill="rgb(140,140,140)"/>
<rect x="306.00" y="356.50" width="1.90" height="12.30" fill="rgb(90,90,90)"/>
<rect x="307.90" y="356.50" width="1.80" height="12.30" fill="rgb(130,130,130)"/>
<rect x="309.70" y="356.50" width="1.40" height="12.30" fill="rgb(60,60,60)"/>
<rect x="311.10" y="356.50" width="2.80" height="12.30" fill="rgb(150,150,150)"/>
<rect x="313.90" y="356.50" width="1.30" height="12.30" fill="rgb(110,110,110)"/>
<rect x="315.20" y="356.50" width="3.30" height="12.30" fill="rgb(170,170,170)"/>
<rect x="318.50" y="356.50" width="1.80" height="12.30" fill="rgb(110,110,110)"/>
<rect x="320.30" y="356.50" width="1.90" height="12.30" fill="rgb(200,200,200)"/>
<rect x="322.20" y="356.50" width="3.70" height="12.30" fill="rgb(150,150,150)"/>
<rect x="328.60" y="356.50" width="1.40" height="12.30" fill="rgb(160,160,160)"/>
<rect x="330.00" y="356.50" width="2.30" height="12.30" fill="rgb(210,210,210)"/>
<rect x="332.30" y="356.50" width="1.90" height="12.30" fill="rgb(120,120,120)"/>
<rect x="335.80" y="356.50" width="1.90" height="12.30" fill="rgb(120,120,120)"/>
<rect x="340.90" y="356.50" width="1.40" height="12.30" fill="rgb(100,100,100)"/>
<rect x="345.10" y="356.50" width="2.30" height="12.30" fill="rgb(60,60,60)"/>
<rect x="352.00" y="356.50" width="1.90" height="12.30" fill="rgb(100,100,100)"/>
<rect x="353.90" y="356.50" width="1.80" height="12.30" fill="rgb(200,200,200)"/>
<rect x="355.70" y="356.50" width="1.80" height="12.30" fill="rgb(130,130,130)"/>
<rect x="357.50" y="356.50" width="2.30" height="12.30" fill="rgb(170,170,170)"/>
<rect x="360.30" y="356.50" width="2.30" height="12.30" fill="rgb(100,100,100)"/>
<rect x="362.60" y="356.50" width="2.30" height="12.30" fill="rgb(220,220,220)"/>
<rect x="364.90" y="356.50" width="1.40" height="12.30" fill="rgb(130,130,130)"/>
<rect x="366.30" y="356.50" width="2.30" height="12.30" fill="rgb(140,140,140)"/>
<rect x="369.50" y="356.50" width="2.40" height="12.30" fill="rgb(130,130,130)"/>
<rect x="376.00" y="356.50" width="3.20" height="12.30" fill="rgb(100,100,100)"/>
<defs><linearGradient id="cb5" x1="0" x2="1" y1="0" y2="0"><stop offset="0.000" stop-color="#cc4a55"/><stop offset="0.162" stop-color="#d0545e"/><stop offset="0.180" stop-color="#d86c76"/><stop offset="0.350" stop-color="#dc7880"/><stop offset="0.360" stop-color="#e2a2c8"/><stop offset="0.490" stop-color="#e6b0d4"/><stop offset="0.500" stop-color="#d4d2ee"/><stop offset="0.660" stop-color="#c8c8ea"/><stop offset="0.670" stop-color="#b6b6e2"/><stop offset="0.745" stop-color="#b0b0de"/><stop offset="0.755" stop-color="#5a60b6"/><stop offset="0.825" stop-color="#5258b2"/><stop offset="0.835" stop-color="#363c9e"/><stop offset="1.000" stop-color="#2a2e90"/></linearGradient></defs>
<rect x="290.00" y="369.20" width="90.00" height="2.80" fill="url(#cb5)"/>
<text x="290.20" y="374.10" font-size="2.4" stroke="#d04040" stroke-width="0.12" textLength="28.80" lengthAdjust="spacingAndGlyphs" fill="#d04040">na_pos (positively correlated)</text>
<line x1="289.30" y1="386.90" x2="383.60" y2="386.90" stroke="#e6e6e6" stroke-width="0.6"/>
<path d="M290.00,385.00 L291.50,385.21 L293.00,385.40 L294.50,385.56 L296.00,385.71 L297.50,385.84 L299.00,385.96 L300.50,386.06 L302.00,386.15 L303.50,386.24 L305.00,386.31 L306.50,386.37 L308.00,386.43 L309.50,386.48 L311.00,386.53 L312.50,386.57 L314.00,386.61 L315.50,386.64 L317.00,386.67 L318.50,386.69 L320.00,386.72 L321.50,386.74 L323.00,386.75 L324.50,386.77 L326.00,386.78 L327.50,386.80 L329.00,386.81 L330.50,386.82 L332.00,386.83 L333.50,386.84 L335.00,386.84 L336.50,386.85 L338.00,386.85 L339.50,386.86 L341.00,386.86 L342.50,386.87 L344.00,386.87 L345.50,386.87 L347.00,386.88 L348.50,386.88 L350.00,386.88 L351.50,386.88 L353.00,386.89 L354.50,386.89 L356.00,386.89 L357.50,386.89 L359.00,386.89 L360.50,386.89 L362.00,386.89 L363.50,386.89 L365.00,386.89 L366.50,386.90 L368.00,386.90 L369.50,386.90 L371.00,386.90 L372.50,386.90 L374.00,386.90 L375.50,386.90 L377.00,386.90 L378.50,386.90 L380.00,386.90 L380.00,395.00 L378.50,392.32 L377.00,390.70 L375.50,389.72 L374.00,389.12 L372.50,388.76 L371.00,388.54 L369.50,388.41 L368.00,388.32 L366.50,388.28 L365.00,388.25 L363.50,388.23 L362.00,388.22 L360.50,388.21 L359.00,388.21 L357.50,388.20 L356.00,388.20 L354.50,388.20 L353.00,388.20 L351.50,388.20 L350.00,388.20 L348.50,388.20 L347.00,388.20 L345.50,388.20 L344.00,388.20 L342.50,388.20 L341.00,388.20 L339.50,388.20 L338.00,388.20 L336.50,388.20 L335.00,388.20 L333.50,388.20 L332.00,388.20 L330.50,388.20 L329.00,388.20 L327.50,388.20 L326.00,388.20 L324.50,388.20 L323.00,388.20 L321.50,388.20 L320.00,388.20 L318.50,388.20 L317.00,388.20 L315.50,388.20 L314.00,388.20 L312.50,388.20 L311.00,388.20 L309.50,388.20 L308.00,388.20 L306.50,388.20 L305.00,388.20 L303.50,388.20 L302.00,388.20 L300.50,388.20 L299.00,388.20 L297.50,388.20 L296.00,388.20 L294.50,388.20 L293.00,388.20 L291.50,388.20 L290.00,388.20 Z" fill="#d6d6d6" stroke="#b0b0b0" stroke-width="0.35"/>
<text x="328.34" y="386.40" font-size="2.4" stroke="#444" stroke-width="0.12" textLength="14.50" lengthAdjust="spacingAndGlyphs" fill="#444">Zero cross at 5890</text>
<text x="337.25" y="397.30" font-size="2.4" stroke="#4a4ab8" stroke-width="0.12" textLength="30.40" lengthAdjust="spacingAndGlyphs" fill="#4a4ab8">na_neg (negatively correlated)</text>
<text x="298.90" y="380.60" font-size="4.8" stroke="#222" stroke-width="0.12" textLength="6.40" lengthAdjust="spacingAndGlyphs">WT</text>
<text x="367.80" y="379.90" font-size="4.8" stroke="#222" stroke-width="0.12" textLength="7.70" lengthAdjust="spacingAndGlyphs">G1s</text>
<path d="M289.3 316.9 H383.6 V398.7 H289.3 Z" fill="none" stroke="#222" stroke-width="0.8"/>
<line x1="289.30" y1="355.20" x2="383.60" y2="355.20" stroke="#c8c8c8" stroke-width="0.4"/>
<line x1="288.00" y1="317.40" x2="289.30" y2="317.40" stroke="#222" stroke-width="0.6"/>
<text x="286.30" y="319.25" font-size="4.5" stroke="#333" stroke-width="0.05" textLength="6.30" lengthAdjust="spacingAndGlyphs" fill="#333" text-anchor="end">0.6</text>
<line x1="288.00" y1="323.10" x2="289.30" y2="323.10" stroke="#222" stroke-width="0.6"/>
<text x="286.30" y="324.95" font-size="4.5" stroke="#333" stroke-width="0.05" textLength="6.30" lengthAdjust="spacingAndGlyphs" fill="#333" text-anchor="end">0.5</text>
<line x1="288.00" y1="328.80" x2="289.30" y2="328.80" stroke="#222" stroke-width="0.6"/>
<text x="286.30" y="330.65" font-size="4.5" stroke="#333" stroke-width="0.05" textLength="6.30" lengthAdjust="spacingAndGlyphs" fill="#333" text-anchor="end">0.4</text>
<line x1="288.00" y1="334.50" x2="289.30" y2="334.50" stroke="#222" stroke-width="0.6"/>
<text x="286.30" y="336.35" font-size="4.5" stroke="#333" stroke-width="0.05" textLength="6.30" lengthAdjust="spacingAndGlyphs" fill="#333" text-anchor="end">0.3</text>
<line x1="288.00" y1="340.20" x2="289.30" y2="340.20" stroke="#222" stroke-width="0.6"/>
<text x="286.30" y="342.05" font-size="4.5" stroke="#333" stroke-width="0.05" textLength="6.30" lengthAdjust="spacingAndGlyphs" fill="#333" text-anchor="end">0.2</text>
<line x1="288.00" y1="345.90" x2="289.30" y2="345.90" stroke="#222" stroke-width="0.6"/>
<text x="286.30" y="347.75" font-size="4.5" stroke="#333" stroke-width="0.05" textLength="6.30" lengthAdjust="spacingAndGlyphs" fill="#333" text-anchor="end">0.1</text>
<line x1="288.00" y1="351.60" x2="289.30" y2="351.60" stroke="#222" stroke-width="0.6"/>
<text x="286.30" y="353.45" font-size="4.5" stroke="#333" stroke-width="0.05" textLength="6.30" lengthAdjust="spacingAndGlyphs" fill="#333" text-anchor="end">0.0</text>
<line x1="288.00" y1="372.00" x2="289.30" y2="372.00" stroke="#222" stroke-width="0.6"/>
<text x="286.70" y="373.50" font-size="4.7" stroke="#333" stroke-width="0.12" textLength="6.20" lengthAdjust="spacingAndGlyphs" fill="#333" text-anchor="end">7.5</text>
<line x1="288.00" y1="377.10" x2="289.30" y2="377.10" stroke="#222" stroke-width="0.6"/>
<text x="286.70" y="378.60" font-size="4.7" stroke="#333" stroke-width="0.12" textLength="6.20" lengthAdjust="spacingAndGlyphs" fill="#333" text-anchor="end">5.0</text>
<line x1="288.00" y1="382.20" x2="289.30" y2="382.20" stroke="#222" stroke-width="0.6"/>
<text x="286.70" y="383.70" font-size="4.7" stroke="#333" stroke-width="0.12" textLength="6.20" lengthAdjust="spacingAndGlyphs" fill="#333" text-anchor="end">2.5</text>
<line x1="288.00" y1="387.20" x2="289.30" y2="387.20" stroke="#222" stroke-width="0.6"/>
<text x="286.70" y="388.70" font-size="4.7" stroke="#333" stroke-width="0.12" textLength="6.20" lengthAdjust="spacingAndGlyphs" fill="#333" text-anchor="end">0.0</text>
<line x1="288.00" y1="392.30" x2="289.30" y2="392.30" stroke="#222" stroke-width="0.6"/>
<text x="286.70" y="393.80" font-size="4.7" stroke="#333" stroke-width="0.12" textLength="7.40" lengthAdjust="spacingAndGlyphs" fill="#333" text-anchor="end">−2.5</text>
<line x1="288.00" y1="397.40" x2="289.30" y2="397.40" stroke="#222" stroke-width="0.6"/>
<text x="286.70" y="398.90" font-size="4.7" stroke="#333" stroke-width="0.12" textLength="7.40" lengthAdjust="spacingAndGlyphs" fill="#333" text-anchor="end">−5.0</text>
<line x1="290.00" y1="398.70" x2="290.00" y2="400.00" stroke="#222" stroke-width="0.6"/>
<text x="292.00" y="403.70" font-size="5.0" stroke="#333" stroke-width="0.1" textLength="2.60" lengthAdjust="spacingAndGlyphs" fill="#333" text-anchor="end" transform="rotate(-45 292.00 403.70)">0</text>
<line x1="298.15" y1="398.70" x2="298.15" y2="400.00" stroke="#222" stroke-width="0.6"/>
<text x="300.15" y="403.70" font-size="5.0" stroke="#333" stroke-width="0.1" textLength="9.90" lengthAdjust="spacingAndGlyphs" fill="#333" text-anchor="end" transform="rotate(-45 300.15 403.70)">1,000</text>
<line x1="306.30" y1="398.70" x2="306.30" y2="400.00" stroke="#222" stroke-width="0.6"/>
<text x="308.30" y="403.70" font-size="5.0" stroke="#333" stroke-width="0.1" textLength="9.90" lengthAdjust="spacingAndGlyphs" fill="#333" text-anchor="end" transform="rotate(-45 308.30 403.70)">2,000</text>
<line x1="314.45" y1="398.70" x2="314.45" y2="400.00" stroke="#222" stroke-width="0.6"/>
<text x="316.45" y="403.70" font-size="5.0" stroke="#333" stroke-width="0.1" textLength="9.90" lengthAdjust="spacingAndGlyphs" fill="#333" text-anchor="end" transform="rotate(-45 316.45 403.70)">3,000</text>
<line x1="322.60" y1="398.70" x2="322.60" y2="400.00" stroke="#222" stroke-width="0.6"/>
<text x="324.60" y="403.70" font-size="5.0" stroke="#333" stroke-width="0.1" textLength="9.90" lengthAdjust="spacingAndGlyphs" fill="#333" text-anchor="end" transform="rotate(-45 324.60 403.70)">4,000</text>
<line x1="330.75" y1="398.70" x2="330.75" y2="400.00" stroke="#222" stroke-width="0.6"/>
<text x="332.75" y="403.70" font-size="5.0" stroke="#333" stroke-width="0.1" textLength="9.90" lengthAdjust="spacingAndGlyphs" fill="#333" text-anchor="end" transform="rotate(-45 332.75 403.70)">5,000</text>
<line x1="338.90" y1="398.70" x2="338.90" y2="400.00" stroke="#222" stroke-width="0.6"/>
<text x="340.90" y="403.70" font-size="5.0" stroke="#333" stroke-width="0.1" textLength="9.90" lengthAdjust="spacingAndGlyphs" fill="#333" text-anchor="end" transform="rotate(-45 340.90 403.70)">6,000</text>
<line x1="347.05" y1="398.70" x2="347.05" y2="400.00" stroke="#222" stroke-width="0.6"/>
<text x="349.05" y="403.70" font-size="5.0" stroke="#333" stroke-width="0.1" textLength="9.90" lengthAdjust="spacingAndGlyphs" fill="#333" text-anchor="end" transform="rotate(-45 349.05 403.70)">7,000</text>
<line x1="355.20" y1="398.70" x2="355.20" y2="400.00" stroke="#222" stroke-width="0.6"/>
<text x="357.20" y="403.70" font-size="5.0" stroke="#333" stroke-width="0.1" textLength="9.90" lengthAdjust="spacingAndGlyphs" fill="#333" text-anchor="end" transform="rotate(-45 357.20 403.70)">8,000</text>
<line x1="363.35" y1="398.70" x2="363.35" y2="400.00" stroke="#222" stroke-width="0.6"/>
<text x="365.35" y="403.70" font-size="5.0" stroke="#333" stroke-width="0.1" textLength="9.90" lengthAdjust="spacingAndGlyphs" fill="#333" text-anchor="end" transform="rotate(-45 365.35 403.70)">9,000</text>
<line x1="371.50" y1="398.70" x2="371.50" y2="400.00" stroke="#222" stroke-width="0.6"/>
<text x="373.50" y="403.70" font-size="5.0" stroke="#333" stroke-width="0.1" textLength="11.60" lengthAdjust="spacingAndGlyphs" fill="#333" text-anchor="end" transform="rotate(-45 373.50 403.70)">10,000</text>
<line x1="379.65" y1="398.70" x2="379.65" y2="400.00" stroke="#222" stroke-width="0.6"/>
<text x="381.65" y="403.70" font-size="5.0" stroke="#333" stroke-width="0.1" textLength="11.60" lengthAdjust="spacingAndGlyphs" fill="#333" text-anchor="end" transform="rotate(-45 381.65 403.70)">11,000</text>
<text x="276.20" y="334.20" font-size="5.8" stroke="#333" stroke-width="0.1" textLength="46.00" lengthAdjust="spacingAndGlyphs" fill="#333" text-anchor="middle" transform="rotate(-90 276.20 334.20)">Enrichment score (ES)</text>
<text x="267.80" y="384.95" font-size="6.6" stroke="#333" stroke-width="0.04" textLength="39.50" lengthAdjust="spacingAndGlyphs" fill="#333" text-anchor="middle" transform="rotate(-90 267.80 384.95)">Ranked list metric</text>
<text x="275.20" y="384.95" font-size="6.6" stroke="#333" stroke-width="0.04" textLength="27.50" lengthAdjust="spacingAndGlyphs" fill="#333" text-anchor="middle" transform="rotate(-90 275.20 384.95)">(PreRanked)</text>
<text x="310.10" y="419.80" font-size="7.4" stroke="#333" stroke-width="0.06" textLength="53.50" lengthAdjust="spacingAndGlyphs" fill="#333">Rank in ordered dataset</text>
<line x1="269.60" y1="427.40" x2="273.90" y2="427.40" stroke="#7cb94a" stroke-width="1.0"/>
<text x="275.10" y="428.90" font-size="5.0" stroke="#2a2a2a" stroke-width="0.03" textLength="34.50" lengthAdjust="spacingAndGlyphs" fill="#2a2a2a">Enrichment profile</text>
<line x1="315.10" y1="426.90" x2="317.60" y2="426.90" stroke="#555" stroke-width="0.5"/>
<line x1="315.10" y1="427.90" x2="317.60" y2="427.90" stroke="#555" stroke-width="0.5"/>
<text x="318.20" y="428.90" font-size="5.0" stroke="#2a2a2a" stroke-width="0.03" textLength="8.40" lengthAdjust="spacingAndGlyphs" fill="#2a2a2a">Hits</text>
<line x1="332.10" y1="426.20" x2="335.70" y2="426.20" stroke="#ccc" stroke-width="0.5"/>
<text x="336.40" y="428.90" font-size="5.0" textLength="3.00" lengthAdjust="spacingAndGlyphs" fill="#666">...</text>
<text x="341.30" y="428.90" font-size="5.0" stroke="#2a2a2a" stroke-width="0.03" textLength="41.80" lengthAdjust="spacingAndGlyphs" fill="#2a2a2a">Ranking metric scores</text>
<text x="295.40" y="305.20" font-size="6.6" stroke="#222" stroke-width="0.06" textLength="75.50" lengthAdjust="spacingAndGlyphs">IVANOVA_Hematopoiesis</text>
<text x="316.00" y="312.30" font-size="6.6" stroke="#222" stroke-width="0.06" textLength="33.60" lengthAdjust="spacingAndGlyphs">Mature Cell</text>
<text x="354.20" y="325.70" font-size="4.5" stroke="#2a2a2a" stroke-width="0.04" textLength="18.90" lengthAdjust="spacingAndGlyphs" fill="#2a2a2a">NES: 2.42</text>
<text x="354.20" y="330.65" font-size="4.5" stroke="#2a2a2a" stroke-width="0.04" textLength="22.30" lengthAdjust="spacingAndGlyphs" fill="#2a2a2a">p-value: 0.0</text>
<text x="354.20" y="335.60" font-size="4.5" stroke="#2a2a2a" stroke-width="0.04" textLength="20.80" lengthAdjust="spacingAndGlyphs" fill="#2a2a2a">FDR q: 0.0</text>
<text x="8.30" y="243.20" font-size="11.0" stroke="#111" stroke-width="0.2" fill="#111" font-weight="bold">C</text>
<text x="71.90" y="247.80" font-size="10.2" stroke="#222" stroke-width="0.2" textLength="15.60" lengthAdjust="spacingAndGlyphs" font-style="italic">Klf1</text>
<line x1="37.20" y1="248.70" x2="40.00" y2="251.50" stroke="#222" stroke-width="0.75"/>
<line x1="37.20" y1="251.50" x2="40.00" y2="248.70" stroke="#222" stroke-width="0.75"/>
<text x="40.60" y="252.60" font-size="8.4" stroke="#222" stroke-width="0.2" textLength="7.80" lengthAdjust="spacingAndGlyphs">10</text>
<text x="49.30" y="249.20" font-size="5.2" stroke="#222" stroke-width="0.2" textLength="2.80" lengthAdjust="spacingAndGlyphs">4</text>
<line x1="37.10" y1="253.40" x2="37.10" y2="331.40" stroke="#111" stroke-width="1.1"/>
<line x1="36.60" y1="330.90" x2="125.80" y2="330.90" stroke="#111" stroke-width="1.1"/>
<line x1="34.30" y1="256.77" x2="37.10" y2="256.77" stroke="#111" stroke-width="0.9"/>
<text x="31.00" y="259.82" font-size="8.9" stroke="#222" stroke-width="0.2" textLength="11.00" lengthAdjust="spacingAndGlyphs" text-anchor="end">2.0</text>
<line x1="34.30" y1="264.99" x2="37.10" y2="264.99" stroke="#111" stroke-width="0.9"/>
<text x="31.00" y="268.04" font-size="8.9" stroke="#222" stroke-width="0.2" textLength="11.00" lengthAdjust="spacingAndGlyphs" text-anchor="end">1.8</text>
<line x1="34.30" y1="273.21" x2="37.10" y2="273.21" stroke="#111" stroke-width="0.9"/>
<text x="31.00" y="276.26" font-size="8.9" stroke="#222" stroke-width="0.2" textLength="11.00" lengthAdjust="spacingAndGlyphs" text-anchor="end">1.6</text>
<line x1="34.30" y1="281.43" x2="37.10" y2="281.43" stroke="#111" stroke-width="0.9"/>
<text x="31.00" y="284.48" font-size="8.9" stroke="#222" stroke-width="0.2" textLength="11.00" lengthAdjust="spacingAndGlyphs" text-anchor="end">1.4</text>
<line x1="34.30" y1="289.65" x2="37.10" y2="289.65" stroke="#111" stroke-width="0.9"/>
<text x="31.00" y="292.70" font-size="8.9" stroke="#222" stroke-width="0.2" textLength="11.00" lengthAdjust="spacingAndGlyphs" text-anchor="end">1.2</text>
<line x1="34.30" y1="297.87" x2="37.10" y2="297.87" stroke="#111" stroke-width="0.9"/>
<text x="31.00" y="300.92" font-size="8.9" stroke="#222" stroke-width="0.2" textLength="11.00" lengthAdjust="spacingAndGlyphs" text-anchor="end">1.0</text>
<line x1="34.30" y1="306.09" x2="37.10" y2="306.09" stroke="#111" stroke-width="0.9"/>
<text x="31.00" y="309.14" font-size="8.9" stroke="#222" stroke-width="0.2" textLength="11.00" lengthAdjust="spacingAndGlyphs" text-anchor="end">0.8</text>
<line x1="34.30" y1="314.31" x2="37.10" y2="314.31" stroke="#111" stroke-width="0.9"/>
<text x="31.00" y="317.36" font-size="8.9" stroke="#222" stroke-width="0.2" textLength="11.00" lengthAdjust="spacingAndGlyphs" text-anchor="end">0.6</text>
<line x1="34.30" y1="322.53" x2="37.10" y2="322.53" stroke="#111" stroke-width="0.9"/>
<text x="31.00" y="325.58" font-size="8.9" stroke="#222" stroke-width="0.2" textLength="11.00" lengthAdjust="spacingAndGlyphs" text-anchor="end">0.4</text>
<line x1="34.30" y1="330.75" x2="37.10" y2="330.75" stroke="#111" stroke-width="0.9"/>
<text x="31.00" y="333.80" font-size="8.9" stroke="#222" stroke-width="0.2" textLength="11.00" lengthAdjust="spacingAndGlyphs" text-anchor="end">0.2</text>
<line x1="55.40" y1="330.90" x2="55.40" y2="333.50" stroke="#111" stroke-width="0.9"/>
<line x1="73.90" y1="330.90" x2="73.90" y2="333.50" stroke="#111" stroke-width="0.9"/>
<line x1="92.60" y1="330.90" x2="92.60" y2="333.50" stroke="#111" stroke-width="0.9"/>
<line x1="111.20" y1="330.90" x2="111.20" y2="333.50" stroke="#111" stroke-width="0.9"/>
<rect x="52.10" y="322.10" width="6.40" height="3.90" fill="#d96a5c"/>
<line x1="52.10" y1="324.00" x2="58.50" y2="324.00" stroke="#c8183a" stroke-width="1.0"/>
<line x1="54.34" y1="322.40" x2="56.26" y2="322.40" stroke="#5a7cc4" stroke-width="0.8"/>
<circle cx="55.80" cy="321.80" r="0.50" fill="#3a3a3a"/>
<circle cx="58.00" cy="325.80" r="0.50" fill="#3a3a3a"/>
<rect x="70.70" y="324.50" width="6.40" height="2.20" fill="#6a5a90"/>
<line x1="70.70" y1="324.85" x2="77.10" y2="324.85" stroke="#3a3c80" stroke-width="0.7"/>
<line x1="70.70" y1="325.60" x2="77.10" y2="325.60" stroke="#c0203e" stroke-width="0.8"/>
<circle cx="75.50" cy="324.30" r="0.50" fill="#3a3a3a"/>
<rect x="89.20" y="259.80" width="6.40" height="27.40" fill="#cf7868"/>
<line x1="89.45" y1="259.80" x2="89.45" y2="287.20" stroke="#c4564e" stroke-width="0.5"/>
<line x1="95.35" y1="259.80" x2="95.35" y2="287.20" stroke="#c4564e" stroke-width="0.5"/>
<line x1="89.20" y1="273.50" x2="95.60" y2="273.50" stroke="#c41a3c" stroke-width="1.2"/>
<line x1="89.20" y1="260.40" x2="95.60" y2="260.40" stroke="#5a7cc4" stroke-width="1.2"/>
<line x1="89.20" y1="286.60" x2="95.60" y2="286.60" stroke="#5a7cc4" stroke-width="1.2"/>
<circle cx="89.30" cy="257.90" r="0.50" fill="#3a3a3a"/>
<circle cx="93.40" cy="277.40" r="0.50" fill="#3a3a3a"/>
<circle cx="91.50" cy="282.30" r="0.50" fill="#3a3a3a"/>
<circle cx="95.10" cy="289.30" r="0.50" fill="#3a3a3a"/>
<rect x="107.90" y="278.40" width="6.40" height="38.20" fill="#cf7868"/>
<line x1="108.15" y1="278.40" x2="108.15" y2="316.60" stroke="#c4564e" stroke-width="0.5"/>
<line x1="114.05" y1="278.40" x2="114.05" y2="316.60" stroke="#c4564e" stroke-width="0.5"/>
<line x1="107.90" y1="297.30" x2="114.30" y2="297.30" stroke="#c41a3c" stroke-width="1.2"/>
<line x1="107.90" y1="279.00" x2="114.30" y2="279.00" stroke="#5a7cc4" stroke-width="1.2"/>
<circle cx="109.40" cy="281.00" r="0.50" fill="#3a3a3a"/>
<circle cx="111.40" cy="280.20" r="0.50" fill="#3a3a3a"/>
<circle cx="109.70" cy="314.30" r="0.50" fill="#3a3a3a"/>
<line x1="107.90" y1="316.10" x2="114.30" y2="316.10" stroke="#8a80b0" stroke-width="0.6"/>
<text x="188.50" y="248.20" font-size="10.2" stroke="#222" stroke-width="0.2" textLength="27.70" lengthAdjust="spacingAndGlyphs" font-style="italic">Zfpm1</text>
<line x1="156.00" y1="248.70" x2="158.80" y2="251.50" stroke="#222" stroke-width="0.75"/>
<line x1="156.00" y1="251.50" x2="158.80" y2="248.70" stroke="#222" stroke-width="0.75"/>
<text x="159.40" y="252.60" font-size="8.4" stroke="#222" stroke-width="0.2" textLength="7.80" lengthAdjust="spacingAndGlyphs">10</text>
<text x="168.10" y="249.20" font-size="5.2" stroke="#222" stroke-width="0.2" textLength="2.80" lengthAdjust="spacingAndGlyphs">4</text>
<line x1="155.40" y1="254.50" x2="155.40" y2="331.10" stroke="#111" stroke-width="1.1"/>
<line x1="154.90" y1="330.60" x2="247.60" y2="330.60" stroke="#111" stroke-width="1.1"/>
<line x1="152.60" y1="257.25" x2="155.40" y2="257.25" stroke="#111" stroke-width="0.9"/>
<text x="149.50" y="260.30" font-size="8.9" stroke="#222" stroke-width="0.2" textLength="11.00" lengthAdjust="spacingAndGlyphs" text-anchor="end">1.6</text>
<line x1="152.60" y1="267.75" x2="155.40" y2="267.75" stroke="#111" stroke-width="0.9"/>
<text x="149.50" y="270.80" font-size="8.9" stroke="#222" stroke-width="0.2" textLength="11.00" lengthAdjust="spacingAndGlyphs" text-anchor="end">1.4</text>
<line x1="152.60" y1="278.25" x2="155.40" y2="278.25" stroke="#111" stroke-width="0.9"/>
<text x="149.50" y="281.30" font-size="8.9" stroke="#222" stroke-width="0.2" textLength="11.00" lengthAdjust="spacingAndGlyphs" text-anchor="end">1.2</text>
<line x1="152.60" y1="288.75" x2="155.40" y2="288.75" stroke="#111" stroke-width="0.9"/>
<text x="149.50" y="291.80" font-size="8.9" stroke="#222" stroke-width="0.2" textLength="11.00" lengthAdjust="spacingAndGlyphs" text-anchor="end">1.0</text>
<line x1="152.60" y1="299.25" x2="155.40" y2="299.25" stroke="#111" stroke-width="0.9"/>
<text x="149.50" y="302.30" font-size="8.9" stroke="#222" stroke-width="0.2" textLength="11.00" lengthAdjust="spacingAndGlyphs" text-anchor="end">0.8</text>
<line x1="152.60" y1="309.75" x2="155.40" y2="309.75" stroke="#111" stroke-width="0.9"/>
<text x="149.50" y="312.80" font-size="8.9" stroke="#222" stroke-width="0.2" textLength="11.00" lengthAdjust="spacingAndGlyphs" text-anchor="end">0.6</text>
<line x1="152.60" y1="320.25" x2="155.40" y2="320.25" stroke="#111" stroke-width="0.9"/>
<text x="149.50" y="323.30" font-size="8.9" stroke="#222" stroke-width="0.2" textLength="11.00" lengthAdjust="spacingAndGlyphs" text-anchor="end">0.4</text>
<line x1="152.60" y1="330.75" x2="155.40" y2="330.75" stroke="#111" stroke-width="0.9"/>
<text x="149.50" y="333.80" font-size="8.9" stroke="#222" stroke-width="0.2" textLength="11.00" lengthAdjust="spacingAndGlyphs" text-anchor="end">0.2</text>
<line x1="174.40" y1="330.60" x2="174.40" y2="333.20" stroke="#111" stroke-width="0.9"/>
<line x1="192.90" y1="330.60" x2="192.90" y2="333.20" stroke="#111" stroke-width="0.9"/>
<line x1="211.80" y1="330.60" x2="211.80" y2="333.20" stroke="#111" stroke-width="0.9"/>
<line x1="230.40" y1="330.60" x2="230.40" y2="333.20" stroke="#111" stroke-width="0.9"/>
<rect x="171.10" y="317.90" width="6.40" height="7.60" fill="#cf7868"/>
<line x1="171.35" y1="317.90" x2="171.35" y2="325.50" stroke="#c4564e" stroke-width="0.5"/>
<line x1="177.25" y1="317.90" x2="177.25" y2="325.50" stroke="#c4564e" stroke-width="0.5"/>
<line x1="171.10" y1="321.60" x2="177.50" y2="321.60" stroke="#c41a3c" stroke-width="1.2"/>
<circle cx="174.30" cy="317.20" r="0.50" fill="#3a3a3a"/>
<circle cx="173.00" cy="320.30" r="0.50" fill="#3a3a3a"/>
<circle cx="175.50" cy="323.50" r="0.50" fill="#3a3a3a"/>
<line x1="171.10" y1="319.50" x2="177.50" y2="319.50" stroke="#c41a3c" stroke-width="0.7"/>
<rect x="189.80" y="326.00" width="6.40" height="2.70" fill="#6a5a90"/>
<line x1="189.80" y1="326.35" x2="196.20" y2="326.35" stroke="#3a3c80" stroke-width="0.7"/>
<line x1="189.80" y1="327.40" x2="196.20" y2="327.40" stroke="#c0203e" stroke-width="0.8"/>
<circle cx="195.40" cy="324.60" r="0.50" fill="#3a3a3a"/>
<rect x="208.50" y="257.90" width="6.40" height="20.00" fill="#cf7868"/>
<line x1="208.75" y1="257.90" x2="208.75" y2="277.90" stroke="#c4564e" stroke-width="0.5"/>
<line x1="214.65" y1="257.90" x2="214.65" y2="277.90" stroke="#c4564e" stroke-width="0.5"/>
<line x1="208.50" y1="267.40" x2="214.90" y2="267.40" stroke="#c41a3c" stroke-width="1.2"/>
<line x1="208.50" y1="258.50" x2="214.90" y2="258.50" stroke="#5a7cc4" stroke-width="1.2"/>
<line x1="208.50" y1="277.30" x2="214.90" y2="277.30" stroke="#5a7cc4" stroke-width="1.2"/>
<circle cx="213.50" cy="258.30" r="0.50" fill="#3a3a3a"/>
<circle cx="212.00" cy="262.50" r="0.50" fill="#3a3a3a"/>
<circle cx="212.80" cy="271.50" r="0.50" fill="#3a3a3a"/>
<circle cx="209.10" cy="281.10" r="0.50" fill="#3a3a3a"/>
<rect x="227.40" y="282.30" width="6.40" height="35.60" fill="#cf7868"/>
<line x1="227.65" y1="282.30" x2="227.65" y2="317.90" stroke="#c4564e" stroke-width="0.5"/>
<line x1="233.55" y1="282.30" x2="233.55" y2="317.90" stroke="#c4564e" stroke-width="0.5"/>
<line x1="227.40" y1="299.80" x2="233.80" y2="299.80" stroke="#c41a3c" stroke-width="1.2"/>
<line x1="227.40" y1="282.90" x2="233.80" y2="282.90" stroke="#5a7cc4" stroke-width="1.2"/>
<line x1="227.40" y1="317.30" x2="233.80" y2="317.30" stroke="#5a7cc4" stroke-width="1.2"/>
<circle cx="231.50" cy="284.00" r="0.50" fill="#3a3a3a"/>
<circle cx="231.00" cy="314.50" r="0.50" fill="#3a3a3a"/>
<text x="68.20" y="350.80" font-size="10.2" stroke="#222" stroke-width="0.2" textLength="23.30" lengthAdjust="spacingAndGlyphs" font-style="italic">Lmo2</text>
<line x1="37.10" y1="350.80" x2="39.90" y2="353.60" stroke="#222" stroke-width="0.75"/>
<line x1="37.10" y1="353.60" x2="39.90" y2="350.80" stroke="#222" stroke-width="0.75"/>
<text x="40.50" y="354.70" font-size="8.4" stroke="#222" stroke-width="0.2" textLength="7.80" lengthAdjust="spacingAndGlyphs">10</text>
<text x="49.20" y="351.30" font-size="5.2" stroke="#222" stroke-width="0.2" textLength="2.80" lengthAdjust="spacingAndGlyphs">4</text>
<line x1="37.00" y1="357.20" x2="37.00" y2="435.00" stroke="#111" stroke-width="1.1"/>
<line x1="36.50" y1="434.50" x2="122.50" y2="434.50" stroke="#111" stroke-width="1.1"/>
<line x1="34.20" y1="358.50" x2="37.00" y2="358.50" stroke="#111" stroke-width="0.9"/>
<text x="31.00" y="361.55" font-size="8.9" stroke="#222" stroke-width="0.2" textLength="11.00" lengthAdjust="spacingAndGlyphs" text-anchor="end">2.0</text>
<line x1="34.20" y1="366.90" x2="37.00" y2="366.90" stroke="#111" stroke-width="0.9"/>
<text x="31.00" y="369.95" font-size="8.9" stroke="#222" stroke-width="0.2" textLength="11.00" lengthAdjust="spacingAndGlyphs" text-anchor="end">1.8</text>
<line x1="34.20" y1="375.30" x2="37.00" y2="375.30" stroke="#111" stroke-width="0.9"/>
<text x="31.00" y="378.35" font-size="8.9" stroke="#222" stroke-width="0.2" textLength="11.00" lengthAdjust="spacingAndGlyphs" text-anchor="end">1.6</text>
<line x1="34.20" y1="383.70" x2="37.00" y2="383.70" stroke="#111" stroke-width="0.9"/>
<text x="31.00" y="386.75" font-size="8.9" stroke="#222" stroke-width="0.2" textLength="11.00" lengthAdjust="spacingAndGlyphs" text-anchor="end">1.4</text>
<line x1="34.20" y1="392.10" x2="37.00" y2="392.10" stroke="#111" stroke-width="0.9"/>
<text x="31.00" y="395.15" font-size="8.9" stroke="#222" stroke-width="0.2" textLength="11.00" lengthAdjust="spacingAndGlyphs" text-anchor="end">1.2</text>
<line x1="34.20" y1="400.50" x2="37.00" y2="400.50" stroke="#111" stroke-width="0.9"/>
<text x="31.00" y="403.55" font-size="8.9" stroke="#222" stroke-width="0.2" textLength="11.00" lengthAdjust="spacingAndGlyphs" text-anchor="end">1.0</text>
<line x1="34.20" y1="408.90" x2="37.00" y2="408.90" stroke="#111" stroke-width="0.9"/>
<text x="31.00" y="411.95" font-size="8.9" stroke="#222" stroke-width="0.2" textLength="11.00" lengthAdjust="spacingAndGlyphs" text-anchor="end">0.8</text>
<line x1="34.20" y1="417.30" x2="37.00" y2="417.30" stroke="#111" stroke-width="0.9"/>
<text x="31.00" y="420.35" font-size="8.9" stroke="#222" stroke-width="0.2" textLength="11.00" lengthAdjust="spacingAndGlyphs" text-anchor="end">0.6</text>
<line x1="34.20" y1="425.70" x2="37.00" y2="425.70" stroke="#111" stroke-width="0.9"/>
<text x="31.00" y="428.75" font-size="8.9" stroke="#222" stroke-width="0.2" textLength="11.00" lengthAdjust="spacingAndGlyphs" text-anchor="end">0.4</text>
<line x1="34.20" y1="434.10" x2="37.00" y2="434.10" stroke="#111" stroke-width="0.9"/>
<text x="31.00" y="437.15" font-size="8.9" stroke="#222" stroke-width="0.2" textLength="11.00" lengthAdjust="spacingAndGlyphs" text-anchor="end">0.2</text>
<line x1="55.60" y1="434.50" x2="55.60" y2="437.10" stroke="#111" stroke-width="0.9"/>
<line x1="74.10" y1="434.50" x2="74.10" y2="437.10" stroke="#111" stroke-width="0.9"/>
<line x1="92.60" y1="434.50" x2="92.60" y2="437.10" stroke="#111" stroke-width="0.9"/>
<line x1="111.20" y1="434.50" x2="111.20" y2="437.10" stroke="#111" stroke-width="0.9"/>
<rect x="52.10" y="428.30" width="6.40" height="1.80" fill="#d96a5c"/>
<line x1="52.10" y1="429.20" x2="58.50" y2="429.20" stroke="#c8183a" stroke-width="1.0"/>
<line x1="54.34" y1="428.60" x2="56.26" y2="428.60" stroke="#5a7cc4" stroke-width="0.8"/>
<circle cx="53.50" cy="429.00" r="0.50" fill="#3a3a3a"/>
<circle cx="57.50" cy="429.40" r="0.50" fill="#3a3a3a"/>
<rect x="70.70" y="430.10" width="6.40" height="1.80" fill="#6a5a90"/>
<line x1="70.70" y1="430.45" x2="77.10" y2="430.45" stroke="#3a3c80" stroke-width="0.7"/>
<line x1="70.70" y1="431.00" x2="77.10" y2="431.00" stroke="#c0203e" stroke-width="0.8"/>
<rect x="89.20" y="374.80" width="6.40" height="35.90" fill="#cf7868"/>
<line x1="89.45" y1="374.80" x2="89.45" y2="410.70" stroke="#c4564e" stroke-width="0.5"/>
<line x1="95.35" y1="374.80" x2="95.35" y2="410.70" stroke="#c4564e" stroke-width="0.5"/>
<line x1="89.20" y1="392.70" x2="95.60" y2="392.70" stroke="#c41a3c" stroke-width="1.2"/>
<line x1="89.20" y1="375.40" x2="95.60" y2="375.40" stroke="#5a7cc4" stroke-width="1.2"/>
<line x1="89.20" y1="410.10" x2="95.60" y2="410.10" stroke="#5a7cc4" stroke-width="1.2"/>
<circle cx="92.50" cy="365.40" r="0.50" fill="#3a3a3a"/>
<circle cx="92.30" cy="384.30" r="0.50" fill="#3a3a3a"/>
<circle cx="92.30" cy="397.70" r="0.50" fill="#3a3a3a"/>
<circle cx="92.30" cy="405.60" r="0.50" fill="#3a3a3a"/>
<rect x="107.80" y="390.00" width="6.40" height="35.40" fill="#cf7868"/>
<line x1="108.05" y1="390.00" x2="108.05" y2="425.40" stroke="#c4564e" stroke-width="0.5"/>
<line x1="113.95" y1="390.00" x2="113.95" y2="425.40" stroke="#c4564e" stroke-width="0.5"/>
<line x1="107.80" y1="407.70" x2="114.20" y2="407.70" stroke="#c41a3c" stroke-width="1.2"/>
<line x1="107.80" y1="390.30" x2="114.20" y2="390.30" stroke="#6c78b4" stroke-width="0.6"/>
<line x1="107.80" y1="425.10" x2="114.20" y2="425.10" stroke="#6c78b4" stroke-width="0.6"/>
<circle cx="111.20" cy="391.80" r="0.50" fill="#3a3a3a"/>
<circle cx="111.50" cy="393.60" r="0.50" fill="#3a3a3a"/>
<circle cx="113.30" cy="423.30" r="0.50" fill="#3a3a3a"/>
<text x="185.60" y="351.20" font-size="10.2" stroke="#222" stroke-width="0.2" textLength="20.70" lengthAdjust="spacingAndGlyphs" font-style="italic">Ldb1</text>
<line x1="155.70" y1="358.40" x2="155.70" y2="435.00" stroke="#111" stroke-width="1.1"/>
<line x1="155.20" y1="434.50" x2="236.90" y2="434.50" stroke="#111" stroke-width="1.1"/>
<line x1="152.90" y1="361.40" x2="155.70" y2="361.40" stroke="#111" stroke-width="0.9"/>
<text x="149.60" y="364.45" font-size="8.9" stroke="#222" stroke-width="0.2" textLength="17.50" lengthAdjust="spacingAndGlyphs" text-anchor="end">4000</text>
<line x1="152.90" y1="376.00" x2="155.70" y2="376.00" stroke="#111" stroke-width="0.9"/>
<text x="149.60" y="379.05" font-size="8.9" stroke="#222" stroke-width="0.2" textLength="17.50" lengthAdjust="spacingAndGlyphs" text-anchor="end">3500</text>
<line x1="152.90" y1="390.60" x2="155.70" y2="390.60" stroke="#111" stroke-width="0.9"/>
<text x="149.60" y="393.65" font-size="8.9" stroke="#222" stroke-width="0.2" textLength="17.50" lengthAdjust="spacingAndGlyphs" text-anchor="end">3000</text>
<line x1="152.90" y1="405.20" x2="155.70" y2="405.20" stroke="#111" stroke-width="0.9"/>
<text x="149.60" y="408.25" font-size="8.9" stroke="#222" stroke-width="0.2" textLength="17.50" lengthAdjust="spacingAndGlyphs" text-anchor="end">2500</text>
<line x1="152.90" y1="419.80" x2="155.70" y2="419.80" stroke="#111" stroke-width="0.9"/>
<text x="149.60" y="422.85" font-size="8.9" stroke="#222" stroke-width="0.2" textLength="17.50" lengthAdjust="spacingAndGlyphs" text-anchor="end">2000</text>
<line x1="152.90" y1="434.40" x2="155.70" y2="434.40" stroke="#111" stroke-width="0.9"/>
<text x="149.60" y="437.45" font-size="8.9" stroke="#222" stroke-width="0.2" textLength="17.50" lengthAdjust="spacingAndGlyphs" text-anchor="end">1500</text>
<line x1="174.00" y1="434.50" x2="174.00" y2="437.10" stroke="#111" stroke-width="0.9"/>
<line x1="192.90" y1="434.50" x2="192.90" y2="437.10" stroke="#111" stroke-width="0.9"/>
<line x1="211.60" y1="434.50" x2="211.60" y2="437.10" stroke="#111" stroke-width="0.9"/>
<line x1="230.30" y1="434.50" x2="230.30" y2="437.10" stroke="#111" stroke-width="0.9"/>
<rect x="171.00" y="363.60" width="6.40" height="11.70" fill="#cf7868"/>
<line x1="171.25" y1="363.60" x2="171.25" y2="375.30" stroke="#c4564e" stroke-width="0.5"/>
<line x1="177.15" y1="363.60" x2="177.15" y2="375.30" stroke="#c4564e" stroke-width="0.5"/>
<line x1="171.00" y1="369.40" x2="177.40" y2="369.40" stroke="#c41a3c" stroke-width="1.2"/>
<line x1="171.00" y1="363.90" x2="177.40" y2="363.90" stroke="#6c78b4" stroke-width="0.6"/>
<circle cx="172.60" cy="364.90" r="0.50" fill="#3a3a3a"/>
<circle cx="176.50" cy="372.60" r="0.50" fill="#3a3a3a"/>
<circle cx="176.50" cy="375.70" r="0.50" fill="#3a3a3a"/>
<rect x="189.55" y="372.60" width="6.40" height="16.00" fill="#cf7868"/>
<line x1="189.80" y1="372.60" x2="189.80" y2="388.60" stroke="#c4564e" stroke-width="0.5"/>
<line x1="195.70" y1="372.60" x2="195.70" y2="388.60" stroke="#c4564e" stroke-width="0.5"/>
<line x1="189.55" y1="380.50" x2="195.95" y2="380.50" stroke="#c41a3c" stroke-width="1.2"/>
<line x1="189.55" y1="373.20" x2="195.95" y2="373.20" stroke="#5a7cc4" stroke-width="1.2"/>
<line x1="189.55" y1="388.00" x2="195.95" y2="388.00" stroke="#5a7cc4" stroke-width="1.2"/>
<circle cx="193.60" cy="365.40" r="0.50" fill="#3a3a3a"/>
<circle cx="191.50" cy="378.00" r="0.50" fill="#3a3a3a"/>
<circle cx="193.80" cy="383.50" r="0.50" fill="#3a3a3a"/>
<rect x="208.25" y="376.60" width="6.40" height="9.30" fill="#cf7868"/>
<line x1="208.50" y1="376.60" x2="208.50" y2="385.90" stroke="#c4564e" stroke-width="0.5"/>
<line x1="214.40" y1="376.60" x2="214.40" y2="385.90" stroke="#c4564e" stroke-width="0.5"/>
<line x1="208.25" y1="381.40" x2="214.65" y2="381.40" stroke="#c41a3c" stroke-width="1.2"/>
<line x1="208.25" y1="376.90" x2="214.65" y2="376.90" stroke="#6c78b4" stroke-width="0.6"/>
<circle cx="211.80" cy="387.30" r="0.50" fill="#3a3a3a"/>
<circle cx="213.00" cy="377.40" r="0.50" fill="#3a3a3a"/>
<rect x="227.35" y="404.40" width="6.40" height="24.30" fill="#cf7868"/>
<line x1="227.60" y1="404.40" x2="227.60" y2="428.70" stroke="#c4564e" stroke-width="0.5"/>
<line x1="233.50" y1="404.40" x2="233.50" y2="428.70" stroke="#c4564e" stroke-width="0.5"/>
<line x1="227.35" y1="416.10" x2="233.75" y2="416.10" stroke="#c41a3c" stroke-width="1.2"/>
<circle cx="228.60" cy="405.80" r="0.50" fill="#3a3a3a"/>
<circle cx="231.50" cy="405.80" r="0.50" fill="#3a3a3a"/>
<circle cx="231.90" cy="424.50" r="0.50" fill="#3a3a3a"/>
<circle cx="231.50" cy="428.40" r="0.50" fill="#3a3a3a"/>
<text x="15.20" y="292.00" font-size="8.9" stroke="#222" stroke-width="0.2" textLength="76.70" lengthAdjust="spacingAndGlyphs" text-anchor="middle" transform="rotate(-90 15.20 292.00)">Normalized expression</text>
<text x="15.20" y="395.50" font-size="8.9" stroke="#222" stroke-width="0.2" textLength="76.70" lengthAdjust="spacingAndGlyphs" text-anchor="middle" transform="rotate(-90 15.20 395.50)">Normalized expression</text>
<text x="59.50" y="442.70" font-size="8.4" stroke="#222" stroke-width="0.2" textLength="30.50" lengthAdjust="spacingAndGlyphs" text-anchor="end" transform="rotate(-45 59.50 442.70)">WT R1/2</text>
<text x="78.00" y="442.70" font-size="8.4" stroke="#222" stroke-width="0.2" textLength="34.50" lengthAdjust="spacingAndGlyphs" text-anchor="end" transform="rotate(-45 78.00 442.70)">G1s R1/2</text>
<text x="96.50" y="442.70" font-size="8.4" stroke="#222" stroke-width="0.2" textLength="24.00" lengthAdjust="spacingAndGlyphs" text-anchor="end" transform="rotate(-45 96.50 442.70)">WT R3</text>
<text x="115.10" y="442.70" font-size="8.4" stroke="#222" stroke-width="0.2" textLength="27.50" lengthAdjust="spacingAndGlyphs" text-anchor="end" transform="rotate(-45 115.10 442.70)">G1s R3</text>
<text x="177.90" y="442.70" font-size="8.4" stroke="#222" stroke-width="0.2" textLength="30.50" lengthAdjust="spacingAndGlyphs" text-anchor="end" transform="rotate(-45 177.90 442.70)">WT R1/2</text>
<text x="196.80" y="442.70" font-size="8.4" stroke="#222" stroke-width="0.2" textLength="34.50" lengthAdjust="spacingAndGlyphs" text-anchor="end" transform="rotate(-45 196.80 442.70)">G1s R1/2</text>
<text x="215.50" y="442.70" font-size="8.4" stroke="#222" stroke-width="0.2" textLength="24.00" lengthAdjust="spacingAndGlyphs" text-anchor="end" transform="rotate(-45 215.50 442.70)">WT R3</text>
<text x="234.20" y="442.70" font-size="8.4" stroke="#222" stroke-width="0.2" textLength="27.50" lengthAdjust="spacingAndGlyphs" text-anchor="end" transform="rotate(-45 234.20 442.70)">G1s R3</text>
</g>
<rect x="0.5" y="0.5" width="519" height="472" fill="none" stroke="#000" stroke-width="1.3"/>
</svg></body></html>
